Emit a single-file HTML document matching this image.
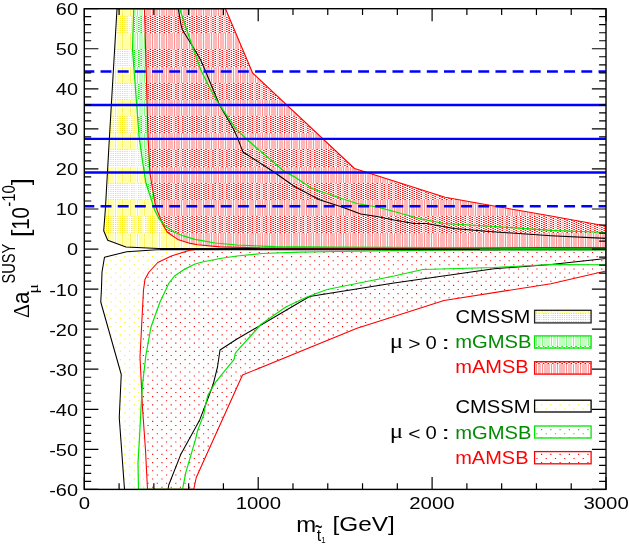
<!DOCTYPE html>
<html><head><meta charset="utf-8"><title>chart</title>
<style>html,body{margin:0;padding:0;background:#fff}svg{display:block}</style>
</head><body>
<svg width="629" height="545" viewBox="0 0 629 545">
<defs>
<clipPath id="cy"><polygon points="117.00,8.70 109.50,136.00 105.30,210.00 103.70,230.70 107.70,240.20 126.00,246.90 158.60,248.50 606.00,248.70 606.00,238.40 551.00,235.80 489.00,231.50 454.00,228.50 426.50,223.50 414.00,223.50 394.00,220.00 377.00,216.50 360.75,214.00 342.00,207.00 319.50,199.75 294.50,186.50 273.90,172.00 242.90,152.00 237.40,137.40 233.50,129.00 219.40,104.70 204.70,69.20 200.80,60.20 196.30,52.50 189.30,41.00 182.20,29.40 180.90,24.30 178.30,8.70"/></clipPath>
<clipPath id="cg"><polygon points="133.75,8.70 132.50,48.75 139.00,136.00 142.50,161.00 146.00,183.50 151.00,198.50 154.60,210.00 158.60,218.00 165.00,225.90 174.50,232.30 184.00,236.20 195.00,239.40 215.00,243.00 237.00,245.00 274.50,246.70 330.00,247.20 480.00,247.80 560.00,248.80 606.00,249.20 606.00,232.50 551.00,230.30 494.00,226.50 444.00,223.50 419.00,218.50 394.00,211.50 377.00,207.00 357.00,203.50 337.00,197.00 312.00,188.50 294.00,176.60 284.50,171.50 264.70,154.80 248.60,141.00 236.00,129.00 219.40,104.70 210.40,89.30 200.80,70.00 190.90,42.00 179.60,8.70"/></clipPath>
<clipPath id="cr"><polygon points="144.50,8.70 148.00,136.00 150.00,173.50 155.00,203.50 157.00,210.00 162.60,224.30 167.30,232.30 177.70,239.40 190.40,243.40 197.50,244.75 220.00,246.90 260.00,247.90 400.00,248.00 520.00,247.60 606.00,247.50 606.00,226.00 551.00,216.00 494.00,206.00 445.00,197.25 354.50,168.50 252.60,73.00 225.50,8.70"/></clipPath>
<clipPath id="cu"><polygon points="117.00,8.70 109.50,136.00 105.30,210.00 103.70,230.70 107.70,240.20 126.00,246.90 158.60,248.50 606.00,248.70 606.00,238.40 551.00,235.80 489.00,231.50 454.00,228.50 426.50,223.50 414.00,223.50 394.00,220.00 377.00,216.50 360.75,214.00 342.00,207.00 319.50,199.75 294.50,186.50 273.90,172.00 242.90,152.00 237.40,137.40 233.50,129.00 219.40,104.70 204.70,69.20 200.80,60.20 196.30,52.50 189.30,41.00 182.20,29.40 180.90,24.30 178.30,8.70"/><polygon points="133.75,8.70 132.50,48.75 139.00,136.00 142.50,161.00 146.00,183.50 151.00,198.50 154.60,210.00 158.60,218.00 165.00,225.90 174.50,232.30 184.00,236.20 195.00,239.40 215.00,243.00 237.00,245.00 274.50,246.70 330.00,247.20 480.00,247.80 560.00,248.80 606.00,249.20 606.00,232.50 551.00,230.30 494.00,226.50 444.00,223.50 419.00,218.50 394.00,211.50 377.00,207.00 357.00,203.50 337.00,197.00 312.00,188.50 294.00,176.60 284.50,171.50 264.70,154.80 248.60,141.00 236.00,129.00 219.40,104.70 210.40,89.30 200.80,70.00 190.90,42.00 179.60,8.70"/><polygon points="144.50,8.70 148.00,136.00 150.00,173.50 155.00,203.50 157.00,210.00 162.60,224.30 167.30,232.30 177.70,239.40 190.40,243.40 197.50,244.75 220.00,246.90 260.00,247.90 400.00,248.00 520.00,247.60 606.00,247.50 606.00,226.00 551.00,216.00 494.00,206.00 445.00,197.25 354.50,168.50 252.60,73.00 225.50,8.70"/></clipPath>
<clipPath id="cyn"><polygon points="606.00,249.70 157.00,249.80 126.80,251.70 104.50,257.20 102.00,272.00 101.40,290.00 100.75,302.00 121.25,374.50 119.25,417.50 124.50,489.40 168.00,489.40 168.75,485.00 181.00,453.90 199.70,419.90 206.60,402.00 213.20,384.30 217.50,367.00 220.00,350.00 237.00,339.00 309.50,296.50 394.00,283.10 494.00,268.75 551.00,264.50 606.00,258.50"/></clipPath>
<clipPath id="crn"><polygon points="606.00,249.30 195.00,249.50 188.80,250.50 171.30,256.10 157.80,262.50 149.00,272.00 145.00,279.20 143.50,290.00 140.00,357.00 142.50,408.00 145.50,450.00 147.50,489.40 193.75,489.40 196.25,477.50 242.50,375.00 357.00,328.25 394.00,316.40 444.00,300.50 551.00,283.75 606.00,271.00"/></clipPath>
<clipPath id="cfr"><rect x="84.30" y="8.70" width="521.70" height="480.70"/></clipPath>
</defs>
<rect width="629" height="545" fill="#fff"/>
<g clip-path="url(#cy)">
<rect x="98.0" y="8.7" width="508.0" height="241.3" fill="#ffffa8"/>
<path d="M100.5 8.7V250M108.5 8.7V250M115.5 8.7V250M122.5 8.7V250M130.5 8.7V250M137.5 8.7V250M144.5 8.7V250M152.5 8.7V250M159.5 8.7V250M166.5 8.7V250M174.5 8.7V250M181.5 8.7V250M189.5 8.7V250M196.5 8.7V250M203.5 8.7V250M211.5 8.7V250M218.5 8.7V250M225.5 8.7V250M233.5 8.7V250M240.5 8.7V250M247.5 8.7V250M255.5 8.7V250M262.5 8.7V250M269.5 8.7V250M277.5 8.7V250M284.5 8.7V250M291.5 8.7V250M299.5 8.7V250M306.5 8.7V250M313.5 8.7V250M321.5 8.7V250M328.5 8.7V250M336.5 8.7V250M343.5 8.7V250M350.5 8.7V250M358.5 8.7V250M365.5 8.7V250M372.5 8.7V250M380.5 8.7V250M387.5 8.7V250M394.5 8.7V250M402.5 8.7V250M409.5 8.7V250M416.5 8.7V250M424.5 8.7V250M431.5 8.7V250M438.5 8.7V250M446.5 8.7V250M453.5 8.7V250M460.5 8.7V250M468.5 8.7V250M475.5 8.7V250M483.5 8.7V250M490.5 8.7V250M497.5 8.7V250M505.5 8.7V250M512.5 8.7V250M519.5 8.7V250M527.5 8.7V250M534.5 8.7V250M541.5 8.7V250M549.5 8.7V250M556.5 8.7V250M563.5 8.7V250M571.5 8.7V250M578.5 8.7V250M585.5 8.7V250M593.5 8.7V250M600.5 8.7V250M607.5 8.7V250" stroke="#fff06a" stroke-width="1" fill="none"/>
<path d="M99.5 8.7V250M101.5 8.7V250M107.5 8.7V250M109.5 8.7V250M114.5 8.7V250M116.5 8.7V250M121.5 8.7V250M123.5 8.7V250M129.5 8.7V250M131.5 8.7V250M136.5 8.7V250M138.5 8.7V250M143.5 8.7V250M145.5 8.7V250M151.5 8.7V250M153.5 8.7V250M158.5 8.7V250M160.5 8.7V250M165.5 8.7V250M167.5 8.7V250M173.5 8.7V250M175.5 8.7V250M180.5 8.7V250M182.5 8.7V250M188.5 8.7V250M190.5 8.7V250M195.5 8.7V250M197.5 8.7V250M202.5 8.7V250M204.5 8.7V250M210.5 8.7V250M212.5 8.7V250M217.5 8.7V250M219.5 8.7V250M224.5 8.7V250M226.5 8.7V250M232.5 8.7V250M234.5 8.7V250M239.5 8.7V250M241.5 8.7V250M246.5 8.7V250M248.5 8.7V250M254.5 8.7V250M256.5 8.7V250M261.5 8.7V250M263.5 8.7V250M268.5 8.7V250M270.5 8.7V250M276.5 8.7V250M278.5 8.7V250M283.5 8.7V250M285.5 8.7V250M290.5 8.7V250M292.5 8.7V250M298.5 8.7V250M300.5 8.7V250M305.5 8.7V250M307.5 8.7V250M312.5 8.7V250M314.5 8.7V250M320.5 8.7V250M322.5 8.7V250M327.5 8.7V250M329.5 8.7V250M335.5 8.7V250M337.5 8.7V250M342.5 8.7V250M344.5 8.7V250M349.5 8.7V250M351.5 8.7V250M357.5 8.7V250M359.5 8.7V250M364.5 8.7V250M366.5 8.7V250M371.5 8.7V250M373.5 8.7V250M379.5 8.7V250M381.5 8.7V250M386.5 8.7V250M388.5 8.7V250M393.5 8.7V250M395.5 8.7V250M401.5 8.7V250M403.5 8.7V250M408.5 8.7V250M410.5 8.7V250M415.5 8.7V250M417.5 8.7V250M423.5 8.7V250M425.5 8.7V250M430.5 8.7V250M432.5 8.7V250M437.5 8.7V250M439.5 8.7V250M445.5 8.7V250M447.5 8.7V250M452.5 8.7V250M454.5 8.7V250M459.5 8.7V250M461.5 8.7V250M467.5 8.7V250M469.5 8.7V250M474.5 8.7V250M476.5 8.7V250M482.5 8.7V250M484.5 8.7V250M489.5 8.7V250M491.5 8.7V250M496.5 8.7V250M498.5 8.7V250M504.5 8.7V250M506.5 8.7V250M511.5 8.7V250M513.5 8.7V250M518.5 8.7V250M520.5 8.7V250M526.5 8.7V250M528.5 8.7V250M533.5 8.7V250M535.5 8.7V250M540.5 8.7V250M542.5 8.7V250M548.5 8.7V250M550.5 8.7V250M555.5 8.7V250M557.5 8.7V250M562.5 8.7V250M564.5 8.7V250M570.5 8.7V250M572.5 8.7V250M577.5 8.7V250M579.5 8.7V250M584.5 8.7V250M586.5 8.7V250M592.5 8.7V250M594.5 8.7V250M599.5 8.7V250M601.5 8.7V250M606.5 8.7V250M608.5 8.7V250" stroke="#fff" stroke-width="1" fill="none" opacity="0.85"/>
<rect x="98.0" y="16.00" width="508.0" height="17.00" fill="#fff"/>
<path d="M94.15 16.5H606.0M94.15 18.5H606.0M94.15 20.5H606.0M94.15 22.5H606.0M94.15 24.5H606.0M94.15 26.5H606.0M94.15 28.5H606.0M94.15 30.5H606.0M94.15 32.5H606.0" stroke="#ffe800" stroke-width="1" stroke-dasharray="1.2 1.115" fill="none"/>
<path d="M99.5 16.0V33.0M107.5 16.0V33.0M114.5 16.0V33.0M121.5 16.0V33.0M129.5 16.0V33.0M136.5 16.0V33.0M143.5 16.0V33.0M151.5 16.0V33.0M158.5 16.0V33.0M165.5 16.0V33.0M173.5 16.0V33.0M180.5 16.0V33.0M188.5 16.0V33.0M195.5 16.0V33.0M202.5 16.0V33.0M210.5 16.0V33.0M217.5 16.0V33.0M224.5 16.0V33.0M232.5 16.0V33.0M239.5 16.0V33.0M246.5 16.0V33.0M254.5 16.0V33.0M261.5 16.0V33.0M268.5 16.0V33.0M276.5 16.0V33.0M283.5 16.0V33.0M290.5 16.0V33.0M298.5 16.0V33.0M305.5 16.0V33.0M312.5 16.0V33.0M320.5 16.0V33.0M327.5 16.0V33.0M335.5 16.0V33.0M342.5 16.0V33.0M349.5 16.0V33.0M357.5 16.0V33.0M364.5 16.0V33.0M371.5 16.0V33.0M379.5 16.0V33.0M386.5 16.0V33.0M393.5 16.0V33.0M401.5 16.0V33.0M408.5 16.0V33.0M415.5 16.0V33.0M423.5 16.0V33.0M430.5 16.0V33.0M437.5 16.0V33.0M445.5 16.0V33.0M452.5 16.0V33.0M459.5 16.0V33.0M467.5 16.0V33.0M474.5 16.0V33.0M482.5 16.0V33.0M489.5 16.0V33.0M496.5 16.0V33.0M504.5 16.0V33.0M511.5 16.0V33.0M518.5 16.0V33.0M526.5 16.0V33.0M533.5 16.0V33.0M540.5 16.0V33.0M548.5 16.0V33.0M555.5 16.0V33.0M562.5 16.0V33.0M570.5 16.0V33.0M577.5 16.0V33.0M584.5 16.0V33.0M592.5 16.0V33.0M599.5 16.0V33.0M606.5 16.0V33.0" stroke="#fff" stroke-width="1" fill="none" opacity="0.6"/>
<rect x="98.0" y="49.00" width="508.0" height="18.00" fill="#fff"/>
<path d="M94.15 49.5H606.0M94.15 51.5H606.0M94.15 53.5H606.0M94.15 55.5H606.0M94.15 57.5H606.0M94.15 59.5H606.0M94.15 61.5H606.0M94.15 63.5H606.0M94.15 65.5H606.0" stroke="#ffe800" stroke-width="1" stroke-dasharray="1.2 1.115" fill="none"/>
<path d="M99.5 49.0V67.0M107.5 49.0V67.0M114.5 49.0V67.0M121.5 49.0V67.0M129.5 49.0V67.0M136.5 49.0V67.0M143.5 49.0V67.0M151.5 49.0V67.0M158.5 49.0V67.0M165.5 49.0V67.0M173.5 49.0V67.0M180.5 49.0V67.0M188.5 49.0V67.0M195.5 49.0V67.0M202.5 49.0V67.0M210.5 49.0V67.0M217.5 49.0V67.0M224.5 49.0V67.0M232.5 49.0V67.0M239.5 49.0V67.0M246.5 49.0V67.0M254.5 49.0V67.0M261.5 49.0V67.0M268.5 49.0V67.0M276.5 49.0V67.0M283.5 49.0V67.0M290.5 49.0V67.0M298.5 49.0V67.0M305.5 49.0V67.0M312.5 49.0V67.0M320.5 49.0V67.0M327.5 49.0V67.0M335.5 49.0V67.0M342.5 49.0V67.0M349.5 49.0V67.0M357.5 49.0V67.0M364.5 49.0V67.0M371.5 49.0V67.0M379.5 49.0V67.0M386.5 49.0V67.0M393.5 49.0V67.0M401.5 49.0V67.0M408.5 49.0V67.0M415.5 49.0V67.0M423.5 49.0V67.0M430.5 49.0V67.0M437.5 49.0V67.0M445.5 49.0V67.0M452.5 49.0V67.0M459.5 49.0V67.0M467.5 49.0V67.0M474.5 49.0V67.0M482.5 49.0V67.0M489.5 49.0V67.0M496.5 49.0V67.0M504.5 49.0V67.0M511.5 49.0V67.0M518.5 49.0V67.0M526.5 49.0V67.0M533.5 49.0V67.0M540.5 49.0V67.0M548.5 49.0V67.0M555.5 49.0V67.0M562.5 49.0V67.0M570.5 49.0V67.0M577.5 49.0V67.0M584.5 49.0V67.0M592.5 49.0V67.0M599.5 49.0V67.0M606.5 49.0V67.0" stroke="#fff" stroke-width="1" fill="none" opacity="0.6"/>
<rect x="98.0" y="83.00" width="508.0" height="17.00" fill="#fff"/>
<path d="M94.15 83.5H606.0M94.15 85.5H606.0M94.15 87.5H606.0M94.15 89.5H606.0M94.15 91.5H606.0M94.15 93.5H606.0M94.15 95.5H606.0M94.15 97.5H606.0M94.15 99.5H606.0" stroke="#ffe800" stroke-width="1" stroke-dasharray="1.2 1.115" fill="none"/>
<path d="M99.5 83.0V100.0M107.5 83.0V100.0M114.5 83.0V100.0M121.5 83.0V100.0M129.5 83.0V100.0M136.5 83.0V100.0M143.5 83.0V100.0M151.5 83.0V100.0M158.5 83.0V100.0M165.5 83.0V100.0M173.5 83.0V100.0M180.5 83.0V100.0M188.5 83.0V100.0M195.5 83.0V100.0M202.5 83.0V100.0M210.5 83.0V100.0M217.5 83.0V100.0M224.5 83.0V100.0M232.5 83.0V100.0M239.5 83.0V100.0M246.5 83.0V100.0M254.5 83.0V100.0M261.5 83.0V100.0M268.5 83.0V100.0M276.5 83.0V100.0M283.5 83.0V100.0M290.5 83.0V100.0M298.5 83.0V100.0M305.5 83.0V100.0M312.5 83.0V100.0M320.5 83.0V100.0M327.5 83.0V100.0M335.5 83.0V100.0M342.5 83.0V100.0M349.5 83.0V100.0M357.5 83.0V100.0M364.5 83.0V100.0M371.5 83.0V100.0M379.5 83.0V100.0M386.5 83.0V100.0M393.5 83.0V100.0M401.5 83.0V100.0M408.5 83.0V100.0M415.5 83.0V100.0M423.5 83.0V100.0M430.5 83.0V100.0M437.5 83.0V100.0M445.5 83.0V100.0M452.5 83.0V100.0M459.5 83.0V100.0M467.5 83.0V100.0M474.5 83.0V100.0M482.5 83.0V100.0M489.5 83.0V100.0M496.5 83.0V100.0M504.5 83.0V100.0M511.5 83.0V100.0M518.5 83.0V100.0M526.5 83.0V100.0M533.5 83.0V100.0M540.5 83.0V100.0M548.5 83.0V100.0M555.5 83.0V100.0M562.5 83.0V100.0M570.5 83.0V100.0M577.5 83.0V100.0M584.5 83.0V100.0M592.5 83.0V100.0M599.5 83.0V100.0M606.5 83.0V100.0" stroke="#fff" stroke-width="1" fill="none" opacity="0.6"/>
<rect x="98.0" y="116.00" width="508.0" height="17.00" fill="#fff"/>
<path d="M94.15 116.5H606.0M94.15 118.5H606.0M94.15 120.5H606.0M94.15 122.5H606.0M94.15 124.5H606.0M94.15 126.5H606.0M94.15 128.5H606.0M94.15 130.5H606.0M94.15 132.5H606.0" stroke="#ffe800" stroke-width="1" stroke-dasharray="1.2 1.115" fill="none"/>
<path d="M99.5 116.0V133.0M107.5 116.0V133.0M114.5 116.0V133.0M121.5 116.0V133.0M129.5 116.0V133.0M136.5 116.0V133.0M143.5 116.0V133.0M151.5 116.0V133.0M158.5 116.0V133.0M165.5 116.0V133.0M173.5 116.0V133.0M180.5 116.0V133.0M188.5 116.0V133.0M195.5 116.0V133.0M202.5 116.0V133.0M210.5 116.0V133.0M217.5 116.0V133.0M224.5 116.0V133.0M232.5 116.0V133.0M239.5 116.0V133.0M246.5 116.0V133.0M254.5 116.0V133.0M261.5 116.0V133.0M268.5 116.0V133.0M276.5 116.0V133.0M283.5 116.0V133.0M290.5 116.0V133.0M298.5 116.0V133.0M305.5 116.0V133.0M312.5 116.0V133.0M320.5 116.0V133.0M327.5 116.0V133.0M335.5 116.0V133.0M342.5 116.0V133.0M349.5 116.0V133.0M357.5 116.0V133.0M364.5 116.0V133.0M371.5 116.0V133.0M379.5 116.0V133.0M386.5 116.0V133.0M393.5 116.0V133.0M401.5 116.0V133.0M408.5 116.0V133.0M415.5 116.0V133.0M423.5 116.0V133.0M430.5 116.0V133.0M437.5 116.0V133.0M445.5 116.0V133.0M452.5 116.0V133.0M459.5 116.0V133.0M467.5 116.0V133.0M474.5 116.0V133.0M482.5 116.0V133.0M489.5 116.0V133.0M496.5 116.0V133.0M504.5 116.0V133.0M511.5 116.0V133.0M518.5 116.0V133.0M526.5 116.0V133.0M533.5 116.0V133.0M540.5 116.0V133.0M548.5 116.0V133.0M555.5 116.0V133.0M562.5 116.0V133.0M570.5 116.0V133.0M577.5 116.0V133.0M584.5 116.0V133.0M592.5 116.0V133.0M599.5 116.0V133.0M606.5 116.0V133.0" stroke="#fff" stroke-width="1" fill="none" opacity="0.6"/>
<rect x="98.0" y="149.00" width="508.0" height="18.00" fill="#fff"/>
<path d="M94.15 149.5H606.0M94.15 151.5H606.0M94.15 153.5H606.0M94.15 155.5H606.0M94.15 157.5H606.0M94.15 159.5H606.0M94.15 161.5H606.0M94.15 163.5H606.0M94.15 165.5H606.0" stroke="#ffe800" stroke-width="1" stroke-dasharray="1.2 1.115" fill="none"/>
<path d="M99.5 149.0V167.0M107.5 149.0V167.0M114.5 149.0V167.0M121.5 149.0V167.0M129.5 149.0V167.0M136.5 149.0V167.0M143.5 149.0V167.0M151.5 149.0V167.0M158.5 149.0V167.0M165.5 149.0V167.0M173.5 149.0V167.0M180.5 149.0V167.0M188.5 149.0V167.0M195.5 149.0V167.0M202.5 149.0V167.0M210.5 149.0V167.0M217.5 149.0V167.0M224.5 149.0V167.0M232.5 149.0V167.0M239.5 149.0V167.0M246.5 149.0V167.0M254.5 149.0V167.0M261.5 149.0V167.0M268.5 149.0V167.0M276.5 149.0V167.0M283.5 149.0V167.0M290.5 149.0V167.0M298.5 149.0V167.0M305.5 149.0V167.0M312.5 149.0V167.0M320.5 149.0V167.0M327.5 149.0V167.0M335.5 149.0V167.0M342.5 149.0V167.0M349.5 149.0V167.0M357.5 149.0V167.0M364.5 149.0V167.0M371.5 149.0V167.0M379.5 149.0V167.0M386.5 149.0V167.0M393.5 149.0V167.0M401.5 149.0V167.0M408.5 149.0V167.0M415.5 149.0V167.0M423.5 149.0V167.0M430.5 149.0V167.0M437.5 149.0V167.0M445.5 149.0V167.0M452.5 149.0V167.0M459.5 149.0V167.0M467.5 149.0V167.0M474.5 149.0V167.0M482.5 149.0V167.0M489.5 149.0V167.0M496.5 149.0V167.0M504.5 149.0V167.0M511.5 149.0V167.0M518.5 149.0V167.0M526.5 149.0V167.0M533.5 149.0V167.0M540.5 149.0V167.0M548.5 149.0V167.0M555.5 149.0V167.0M562.5 149.0V167.0M570.5 149.0V167.0M577.5 149.0V167.0M584.5 149.0V167.0M592.5 149.0V167.0M599.5 149.0V167.0M606.5 149.0V167.0" stroke="#fff" stroke-width="1" fill="none" opacity="0.6"/>
<rect x="98.0" y="183.00" width="508.0" height="17.00" fill="#fff"/>
<path d="M94.15 183.5H606.0M94.15 185.5H606.0M94.15 187.5H606.0M94.15 189.5H606.0M94.15 191.5H606.0M94.15 193.5H606.0M94.15 195.5H606.0M94.15 197.5H606.0M94.15 199.5H606.0" stroke="#ffe800" stroke-width="1" stroke-dasharray="1.2 1.115" fill="none"/>
<path d="M99.5 183.0V200.0M107.5 183.0V200.0M114.5 183.0V200.0M121.5 183.0V200.0M129.5 183.0V200.0M136.5 183.0V200.0M143.5 183.0V200.0M151.5 183.0V200.0M158.5 183.0V200.0M165.5 183.0V200.0M173.5 183.0V200.0M180.5 183.0V200.0M188.5 183.0V200.0M195.5 183.0V200.0M202.5 183.0V200.0M210.5 183.0V200.0M217.5 183.0V200.0M224.5 183.0V200.0M232.5 183.0V200.0M239.5 183.0V200.0M246.5 183.0V200.0M254.5 183.0V200.0M261.5 183.0V200.0M268.5 183.0V200.0M276.5 183.0V200.0M283.5 183.0V200.0M290.5 183.0V200.0M298.5 183.0V200.0M305.5 183.0V200.0M312.5 183.0V200.0M320.5 183.0V200.0M327.5 183.0V200.0M335.5 183.0V200.0M342.5 183.0V200.0M349.5 183.0V200.0M357.5 183.0V200.0M364.5 183.0V200.0M371.5 183.0V200.0M379.5 183.0V200.0M386.5 183.0V200.0M393.5 183.0V200.0M401.5 183.0V200.0M408.5 183.0V200.0M415.5 183.0V200.0M423.5 183.0V200.0M430.5 183.0V200.0M437.5 183.0V200.0M445.5 183.0V200.0M452.5 183.0V200.0M459.5 183.0V200.0M467.5 183.0V200.0M474.5 183.0V200.0M482.5 183.0V200.0M489.5 183.0V200.0M496.5 183.0V200.0M504.5 183.0V200.0M511.5 183.0V200.0M518.5 183.0V200.0M526.5 183.0V200.0M533.5 183.0V200.0M540.5 183.0V200.0M548.5 183.0V200.0M555.5 183.0V200.0M562.5 183.0V200.0M570.5 183.0V200.0M577.5 183.0V200.0M584.5 183.0V200.0M592.5 183.0V200.0M599.5 183.0V200.0M606.5 183.0V200.0" stroke="#fff" stroke-width="1" fill="none" opacity="0.6"/>
<rect x="98.0" y="216.00" width="508.0" height="17.00" fill="#fff"/>
<path d="M94.15 216.5H606.0M94.15 218.5H606.0M94.15 220.5H606.0M94.15 222.5H606.0M94.15 224.5H606.0M94.15 226.5H606.0M94.15 228.5H606.0M94.15 230.5H606.0M94.15 232.5H606.0" stroke="#ffe800" stroke-width="1" stroke-dasharray="1.2 1.115" fill="none"/>
<path d="M99.5 216.0V233.0M107.5 216.0V233.0M114.5 216.0V233.0M121.5 216.0V233.0M129.5 216.0V233.0M136.5 216.0V233.0M143.5 216.0V233.0M151.5 216.0V233.0M158.5 216.0V233.0M165.5 216.0V233.0M173.5 216.0V233.0M180.5 216.0V233.0M188.5 216.0V233.0M195.5 216.0V233.0M202.5 216.0V233.0M210.5 216.0V233.0M217.5 216.0V233.0M224.5 216.0V233.0M232.5 216.0V233.0M239.5 216.0V233.0M246.5 216.0V233.0M254.5 216.0V233.0M261.5 216.0V233.0M268.5 216.0V233.0M276.5 216.0V233.0M283.5 216.0V233.0M290.5 216.0V233.0M298.5 216.0V233.0M305.5 216.0V233.0M312.5 216.0V233.0M320.5 216.0V233.0M327.5 216.0V233.0M335.5 216.0V233.0M342.5 216.0V233.0M349.5 216.0V233.0M357.5 216.0V233.0M364.5 216.0V233.0M371.5 216.0V233.0M379.5 216.0V233.0M386.5 216.0V233.0M393.5 216.0V233.0M401.5 216.0V233.0M408.5 216.0V233.0M415.5 216.0V233.0M423.5 216.0V233.0M430.5 216.0V233.0M437.5 216.0V233.0M445.5 216.0V233.0M452.5 216.0V233.0M459.5 216.0V233.0M467.5 216.0V233.0M474.5 216.0V233.0M482.5 216.0V233.0M489.5 216.0V233.0M496.5 216.0V233.0M504.5 216.0V233.0M511.5 216.0V233.0M518.5 216.0V233.0M526.5 216.0V233.0M533.5 216.0V233.0M540.5 216.0V233.0M548.5 216.0V233.0M555.5 216.0V233.0M562.5 216.0V233.0M570.5 216.0V233.0M577.5 216.0V233.0M584.5 216.0V233.0M592.5 216.0V233.0M599.5 216.0V233.0M606.5 216.0V233.0" stroke="#fff" stroke-width="1" fill="none" opacity="0.6"/>
<rect x="98.0" y="249.00" width="508.0" height="1.00" fill="#fff"/>
<path d="M94.15 249.5H606.0" stroke="#ffe800" stroke-width="1" stroke-dasharray="1.2 1.115" fill="none"/>
<path d="M99.5 249.0V250.0M107.5 249.0V250.0M114.5 249.0V250.0M121.5 249.0V250.0M129.5 249.0V250.0M136.5 249.0V250.0M143.5 249.0V250.0M151.5 249.0V250.0M158.5 249.0V250.0M165.5 249.0V250.0M173.5 249.0V250.0M180.5 249.0V250.0M188.5 249.0V250.0M195.5 249.0V250.0M202.5 249.0V250.0M210.5 249.0V250.0M217.5 249.0V250.0M224.5 249.0V250.0M232.5 249.0V250.0M239.5 249.0V250.0M246.5 249.0V250.0M254.5 249.0V250.0M261.5 249.0V250.0M268.5 249.0V250.0M276.5 249.0V250.0M283.5 249.0V250.0M290.5 249.0V250.0M298.5 249.0V250.0M305.5 249.0V250.0M312.5 249.0V250.0M320.5 249.0V250.0M327.5 249.0V250.0M335.5 249.0V250.0M342.5 249.0V250.0M349.5 249.0V250.0M357.5 249.0V250.0M364.5 249.0V250.0M371.5 249.0V250.0M379.5 249.0V250.0M386.5 249.0V250.0M393.5 249.0V250.0M401.5 249.0V250.0M408.5 249.0V250.0M415.5 249.0V250.0M423.5 249.0V250.0M430.5 249.0V250.0M437.5 249.0V250.0M445.5 249.0V250.0M452.5 249.0V250.0M459.5 249.0V250.0M467.5 249.0V250.0M474.5 249.0V250.0M482.5 249.0V250.0M489.5 249.0V250.0M496.5 249.0V250.0M504.5 249.0V250.0M511.5 249.0V250.0M518.5 249.0V250.0M526.5 249.0V250.0M533.5 249.0V250.0M540.5 249.0V250.0M548.5 249.0V250.0M555.5 249.0V250.0M562.5 249.0V250.0M570.5 249.0V250.0M577.5 249.0V250.0M584.5 249.0V250.0M592.5 249.0V250.0M599.5 249.0V250.0M606.5 249.0V250.0" stroke="#fff" stroke-width="1" fill="none" opacity="0.6"/>
</g>
<g clip-path="url(#cg)">
<rect x="128.0" y="8.7" width="478.0" height="241.3" fill="#c0ffc0"/>
<path d="M122.5 8.7V250M130.5 8.7V250M137.5 8.7V250M144.5 8.7V250M152.5 8.7V250M159.5 8.7V250M166.5 8.7V250M174.5 8.7V250M181.5 8.7V250M189.5 8.7V250M196.5 8.7V250M203.5 8.7V250M211.5 8.7V250M218.5 8.7V250M225.5 8.7V250M233.5 8.7V250M240.5 8.7V250M247.5 8.7V250M255.5 8.7V250M262.5 8.7V250M269.5 8.7V250M277.5 8.7V250M284.5 8.7V250M291.5 8.7V250M299.5 8.7V250M306.5 8.7V250M313.5 8.7V250M321.5 8.7V250M328.5 8.7V250M336.5 8.7V250M343.5 8.7V250M350.5 8.7V250M358.5 8.7V250M365.5 8.7V250M372.5 8.7V250M380.5 8.7V250M387.5 8.7V250M394.5 8.7V250M402.5 8.7V250M409.5 8.7V250M416.5 8.7V250M424.5 8.7V250M431.5 8.7V250M438.5 8.7V250M446.5 8.7V250M453.5 8.7V250M460.5 8.7V250M468.5 8.7V250M475.5 8.7V250M483.5 8.7V250M490.5 8.7V250M497.5 8.7V250M505.5 8.7V250M512.5 8.7V250M519.5 8.7V250M527.5 8.7V250M534.5 8.7V250M541.5 8.7V250M549.5 8.7V250M556.5 8.7V250M563.5 8.7V250M571.5 8.7V250M578.5 8.7V250M585.5 8.7V250M593.5 8.7V250M600.5 8.7V250M607.5 8.7V250" stroke="#7dff7d" stroke-width="1" fill="none"/>
<path d="M121.5 8.7V250M123.5 8.7V250M129.5 8.7V250M131.5 8.7V250M136.5 8.7V250M138.5 8.7V250M143.5 8.7V250M145.5 8.7V250M151.5 8.7V250M153.5 8.7V250M158.5 8.7V250M160.5 8.7V250M165.5 8.7V250M167.5 8.7V250M173.5 8.7V250M175.5 8.7V250M180.5 8.7V250M182.5 8.7V250M188.5 8.7V250M190.5 8.7V250M195.5 8.7V250M197.5 8.7V250M202.5 8.7V250M204.5 8.7V250M210.5 8.7V250M212.5 8.7V250M217.5 8.7V250M219.5 8.7V250M224.5 8.7V250M226.5 8.7V250M232.5 8.7V250M234.5 8.7V250M239.5 8.7V250M241.5 8.7V250M246.5 8.7V250M248.5 8.7V250M254.5 8.7V250M256.5 8.7V250M261.5 8.7V250M263.5 8.7V250M268.5 8.7V250M270.5 8.7V250M276.5 8.7V250M278.5 8.7V250M283.5 8.7V250M285.5 8.7V250M290.5 8.7V250M292.5 8.7V250M298.5 8.7V250M300.5 8.7V250M305.5 8.7V250M307.5 8.7V250M312.5 8.7V250M314.5 8.7V250M320.5 8.7V250M322.5 8.7V250M327.5 8.7V250M329.5 8.7V250M335.5 8.7V250M337.5 8.7V250M342.5 8.7V250M344.5 8.7V250M349.5 8.7V250M351.5 8.7V250M357.5 8.7V250M359.5 8.7V250M364.5 8.7V250M366.5 8.7V250M371.5 8.7V250M373.5 8.7V250M379.5 8.7V250M381.5 8.7V250M386.5 8.7V250M388.5 8.7V250M393.5 8.7V250M395.5 8.7V250M401.5 8.7V250M403.5 8.7V250M408.5 8.7V250M410.5 8.7V250M415.5 8.7V250M417.5 8.7V250M423.5 8.7V250M425.5 8.7V250M430.5 8.7V250M432.5 8.7V250M437.5 8.7V250M439.5 8.7V250M445.5 8.7V250M447.5 8.7V250M452.5 8.7V250M454.5 8.7V250M459.5 8.7V250M461.5 8.7V250M467.5 8.7V250M469.5 8.7V250M474.5 8.7V250M476.5 8.7V250M482.5 8.7V250M484.5 8.7V250M489.5 8.7V250M491.5 8.7V250M496.5 8.7V250M498.5 8.7V250M504.5 8.7V250M506.5 8.7V250M511.5 8.7V250M513.5 8.7V250M518.5 8.7V250M520.5 8.7V250M526.5 8.7V250M528.5 8.7V250M533.5 8.7V250M535.5 8.7V250M540.5 8.7V250M542.5 8.7V250M548.5 8.7V250M550.5 8.7V250M555.5 8.7V250M557.5 8.7V250M562.5 8.7V250M564.5 8.7V250M570.5 8.7V250M572.5 8.7V250M577.5 8.7V250M579.5 8.7V250M584.5 8.7V250M586.5 8.7V250M592.5 8.7V250M594.5 8.7V250M599.5 8.7V250M601.5 8.7V250M606.5 8.7V250M608.5 8.7V250" stroke="#fff" stroke-width="1" fill="none" opacity="0.85"/>
<rect x="128.0" y="16.00" width="478.0" height="17.00" fill="#fff"/>
<path d="M94.15 16.5H606.0M94.15 18.5H606.0M94.15 20.5H606.0M94.15 22.5H606.0M94.15 24.5H606.0M94.15 26.5H606.0M94.15 28.5H606.0M94.15 30.5H606.0M94.15 32.5H606.0M96.47 17.5H606.0M96.47 19.5H606.0M96.47 21.5H606.0M96.47 23.5H606.0M96.47 25.5H606.0M96.47 27.5H606.0M96.47 29.5H606.0M96.47 31.5H606.0" stroke="#00e800" stroke-width="1" stroke-dasharray="1.5 3.130" fill="none"/>
<path d="M121.5 16.0V33.0M129.5 16.0V33.0M136.5 16.0V33.0M143.5 16.0V33.0M151.5 16.0V33.0M158.5 16.0V33.0M165.5 16.0V33.0M173.5 16.0V33.0M180.5 16.0V33.0M188.5 16.0V33.0M195.5 16.0V33.0M202.5 16.0V33.0M210.5 16.0V33.0M217.5 16.0V33.0M224.5 16.0V33.0M232.5 16.0V33.0M239.5 16.0V33.0M246.5 16.0V33.0M254.5 16.0V33.0M261.5 16.0V33.0M268.5 16.0V33.0M276.5 16.0V33.0M283.5 16.0V33.0M290.5 16.0V33.0M298.5 16.0V33.0M305.5 16.0V33.0M312.5 16.0V33.0M320.5 16.0V33.0M327.5 16.0V33.0M335.5 16.0V33.0M342.5 16.0V33.0M349.5 16.0V33.0M357.5 16.0V33.0M364.5 16.0V33.0M371.5 16.0V33.0M379.5 16.0V33.0M386.5 16.0V33.0M393.5 16.0V33.0M401.5 16.0V33.0M408.5 16.0V33.0M415.5 16.0V33.0M423.5 16.0V33.0M430.5 16.0V33.0M437.5 16.0V33.0M445.5 16.0V33.0M452.5 16.0V33.0M459.5 16.0V33.0M467.5 16.0V33.0M474.5 16.0V33.0M482.5 16.0V33.0M489.5 16.0V33.0M496.5 16.0V33.0M504.5 16.0V33.0M511.5 16.0V33.0M518.5 16.0V33.0M526.5 16.0V33.0M533.5 16.0V33.0M540.5 16.0V33.0M548.5 16.0V33.0M555.5 16.0V33.0M562.5 16.0V33.0M570.5 16.0V33.0M577.5 16.0V33.0M584.5 16.0V33.0M592.5 16.0V33.0M599.5 16.0V33.0M606.5 16.0V33.0" stroke="#fff" stroke-width="1" fill="none" opacity="0.6"/>
<rect x="128.0" y="49.00" width="478.0" height="18.00" fill="#fff"/>
<path d="M94.15 49.5H606.0M94.15 51.5H606.0M94.15 53.5H606.0M94.15 55.5H606.0M94.15 57.5H606.0M94.15 59.5H606.0M94.15 61.5H606.0M94.15 63.5H606.0M94.15 65.5H606.0M96.47 50.5H606.0M96.47 52.5H606.0M96.47 54.5H606.0M96.47 56.5H606.0M96.47 58.5H606.0M96.47 60.5H606.0M96.47 62.5H606.0M96.47 64.5H606.0M96.47 66.5H606.0" stroke="#00e800" stroke-width="1" stroke-dasharray="1.5 3.130" fill="none"/>
<path d="M121.5 49.0V67.0M129.5 49.0V67.0M136.5 49.0V67.0M143.5 49.0V67.0M151.5 49.0V67.0M158.5 49.0V67.0M165.5 49.0V67.0M173.5 49.0V67.0M180.5 49.0V67.0M188.5 49.0V67.0M195.5 49.0V67.0M202.5 49.0V67.0M210.5 49.0V67.0M217.5 49.0V67.0M224.5 49.0V67.0M232.5 49.0V67.0M239.5 49.0V67.0M246.5 49.0V67.0M254.5 49.0V67.0M261.5 49.0V67.0M268.5 49.0V67.0M276.5 49.0V67.0M283.5 49.0V67.0M290.5 49.0V67.0M298.5 49.0V67.0M305.5 49.0V67.0M312.5 49.0V67.0M320.5 49.0V67.0M327.5 49.0V67.0M335.5 49.0V67.0M342.5 49.0V67.0M349.5 49.0V67.0M357.5 49.0V67.0M364.5 49.0V67.0M371.5 49.0V67.0M379.5 49.0V67.0M386.5 49.0V67.0M393.5 49.0V67.0M401.5 49.0V67.0M408.5 49.0V67.0M415.5 49.0V67.0M423.5 49.0V67.0M430.5 49.0V67.0M437.5 49.0V67.0M445.5 49.0V67.0M452.5 49.0V67.0M459.5 49.0V67.0M467.5 49.0V67.0M474.5 49.0V67.0M482.5 49.0V67.0M489.5 49.0V67.0M496.5 49.0V67.0M504.5 49.0V67.0M511.5 49.0V67.0M518.5 49.0V67.0M526.5 49.0V67.0M533.5 49.0V67.0M540.5 49.0V67.0M548.5 49.0V67.0M555.5 49.0V67.0M562.5 49.0V67.0M570.5 49.0V67.0M577.5 49.0V67.0M584.5 49.0V67.0M592.5 49.0V67.0M599.5 49.0V67.0M606.5 49.0V67.0" stroke="#fff" stroke-width="1" fill="none" opacity="0.6"/>
<rect x="128.0" y="83.00" width="478.0" height="17.00" fill="#fff"/>
<path d="M94.15 83.5H606.0M94.15 85.5H606.0M94.15 87.5H606.0M94.15 89.5H606.0M94.15 91.5H606.0M94.15 93.5H606.0M94.15 95.5H606.0M94.15 97.5H606.0M94.15 99.5H606.0M96.47 84.5H606.0M96.47 86.5H606.0M96.47 88.5H606.0M96.47 90.5H606.0M96.47 92.5H606.0M96.47 94.5H606.0M96.47 96.5H606.0M96.47 98.5H606.0" stroke="#00e800" stroke-width="1" stroke-dasharray="1.5 3.130" fill="none"/>
<path d="M121.5 83.0V100.0M129.5 83.0V100.0M136.5 83.0V100.0M143.5 83.0V100.0M151.5 83.0V100.0M158.5 83.0V100.0M165.5 83.0V100.0M173.5 83.0V100.0M180.5 83.0V100.0M188.5 83.0V100.0M195.5 83.0V100.0M202.5 83.0V100.0M210.5 83.0V100.0M217.5 83.0V100.0M224.5 83.0V100.0M232.5 83.0V100.0M239.5 83.0V100.0M246.5 83.0V100.0M254.5 83.0V100.0M261.5 83.0V100.0M268.5 83.0V100.0M276.5 83.0V100.0M283.5 83.0V100.0M290.5 83.0V100.0M298.5 83.0V100.0M305.5 83.0V100.0M312.5 83.0V100.0M320.5 83.0V100.0M327.5 83.0V100.0M335.5 83.0V100.0M342.5 83.0V100.0M349.5 83.0V100.0M357.5 83.0V100.0M364.5 83.0V100.0M371.5 83.0V100.0M379.5 83.0V100.0M386.5 83.0V100.0M393.5 83.0V100.0M401.5 83.0V100.0M408.5 83.0V100.0M415.5 83.0V100.0M423.5 83.0V100.0M430.5 83.0V100.0M437.5 83.0V100.0M445.5 83.0V100.0M452.5 83.0V100.0M459.5 83.0V100.0M467.5 83.0V100.0M474.5 83.0V100.0M482.5 83.0V100.0M489.5 83.0V100.0M496.5 83.0V100.0M504.5 83.0V100.0M511.5 83.0V100.0M518.5 83.0V100.0M526.5 83.0V100.0M533.5 83.0V100.0M540.5 83.0V100.0M548.5 83.0V100.0M555.5 83.0V100.0M562.5 83.0V100.0M570.5 83.0V100.0M577.5 83.0V100.0M584.5 83.0V100.0M592.5 83.0V100.0M599.5 83.0V100.0M606.5 83.0V100.0" stroke="#fff" stroke-width="1" fill="none" opacity="0.6"/>
<rect x="128.0" y="116.00" width="478.0" height="17.00" fill="#fff"/>
<path d="M94.15 116.5H606.0M94.15 118.5H606.0M94.15 120.5H606.0M94.15 122.5H606.0M94.15 124.5H606.0M94.15 126.5H606.0M94.15 128.5H606.0M94.15 130.5H606.0M94.15 132.5H606.0M96.47 117.5H606.0M96.47 119.5H606.0M96.47 121.5H606.0M96.47 123.5H606.0M96.47 125.5H606.0M96.47 127.5H606.0M96.47 129.5H606.0M96.47 131.5H606.0" stroke="#00e800" stroke-width="1" stroke-dasharray="1.5 3.130" fill="none"/>
<path d="M121.5 116.0V133.0M129.5 116.0V133.0M136.5 116.0V133.0M143.5 116.0V133.0M151.5 116.0V133.0M158.5 116.0V133.0M165.5 116.0V133.0M173.5 116.0V133.0M180.5 116.0V133.0M188.5 116.0V133.0M195.5 116.0V133.0M202.5 116.0V133.0M210.5 116.0V133.0M217.5 116.0V133.0M224.5 116.0V133.0M232.5 116.0V133.0M239.5 116.0V133.0M246.5 116.0V133.0M254.5 116.0V133.0M261.5 116.0V133.0M268.5 116.0V133.0M276.5 116.0V133.0M283.5 116.0V133.0M290.5 116.0V133.0M298.5 116.0V133.0M305.5 116.0V133.0M312.5 116.0V133.0M320.5 116.0V133.0M327.5 116.0V133.0M335.5 116.0V133.0M342.5 116.0V133.0M349.5 116.0V133.0M357.5 116.0V133.0M364.5 116.0V133.0M371.5 116.0V133.0M379.5 116.0V133.0M386.5 116.0V133.0M393.5 116.0V133.0M401.5 116.0V133.0M408.5 116.0V133.0M415.5 116.0V133.0M423.5 116.0V133.0M430.5 116.0V133.0M437.5 116.0V133.0M445.5 116.0V133.0M452.5 116.0V133.0M459.5 116.0V133.0M467.5 116.0V133.0M474.5 116.0V133.0M482.5 116.0V133.0M489.5 116.0V133.0M496.5 116.0V133.0M504.5 116.0V133.0M511.5 116.0V133.0M518.5 116.0V133.0M526.5 116.0V133.0M533.5 116.0V133.0M540.5 116.0V133.0M548.5 116.0V133.0M555.5 116.0V133.0M562.5 116.0V133.0M570.5 116.0V133.0M577.5 116.0V133.0M584.5 116.0V133.0M592.5 116.0V133.0M599.5 116.0V133.0M606.5 116.0V133.0" stroke="#fff" stroke-width="1" fill="none" opacity="0.6"/>
<rect x="128.0" y="149.00" width="478.0" height="18.00" fill="#fff"/>
<path d="M94.15 149.5H606.0M94.15 151.5H606.0M94.15 153.5H606.0M94.15 155.5H606.0M94.15 157.5H606.0M94.15 159.5H606.0M94.15 161.5H606.0M94.15 163.5H606.0M94.15 165.5H606.0M96.47 150.5H606.0M96.47 152.5H606.0M96.47 154.5H606.0M96.47 156.5H606.0M96.47 158.5H606.0M96.47 160.5H606.0M96.47 162.5H606.0M96.47 164.5H606.0M96.47 166.5H606.0" stroke="#00e800" stroke-width="1" stroke-dasharray="1.5 3.130" fill="none"/>
<path d="M121.5 149.0V167.0M129.5 149.0V167.0M136.5 149.0V167.0M143.5 149.0V167.0M151.5 149.0V167.0M158.5 149.0V167.0M165.5 149.0V167.0M173.5 149.0V167.0M180.5 149.0V167.0M188.5 149.0V167.0M195.5 149.0V167.0M202.5 149.0V167.0M210.5 149.0V167.0M217.5 149.0V167.0M224.5 149.0V167.0M232.5 149.0V167.0M239.5 149.0V167.0M246.5 149.0V167.0M254.5 149.0V167.0M261.5 149.0V167.0M268.5 149.0V167.0M276.5 149.0V167.0M283.5 149.0V167.0M290.5 149.0V167.0M298.5 149.0V167.0M305.5 149.0V167.0M312.5 149.0V167.0M320.5 149.0V167.0M327.5 149.0V167.0M335.5 149.0V167.0M342.5 149.0V167.0M349.5 149.0V167.0M357.5 149.0V167.0M364.5 149.0V167.0M371.5 149.0V167.0M379.5 149.0V167.0M386.5 149.0V167.0M393.5 149.0V167.0M401.5 149.0V167.0M408.5 149.0V167.0M415.5 149.0V167.0M423.5 149.0V167.0M430.5 149.0V167.0M437.5 149.0V167.0M445.5 149.0V167.0M452.5 149.0V167.0M459.5 149.0V167.0M467.5 149.0V167.0M474.5 149.0V167.0M482.5 149.0V167.0M489.5 149.0V167.0M496.5 149.0V167.0M504.5 149.0V167.0M511.5 149.0V167.0M518.5 149.0V167.0M526.5 149.0V167.0M533.5 149.0V167.0M540.5 149.0V167.0M548.5 149.0V167.0M555.5 149.0V167.0M562.5 149.0V167.0M570.5 149.0V167.0M577.5 149.0V167.0M584.5 149.0V167.0M592.5 149.0V167.0M599.5 149.0V167.0M606.5 149.0V167.0" stroke="#fff" stroke-width="1" fill="none" opacity="0.6"/>
<rect x="128.0" y="183.00" width="478.0" height="17.00" fill="#fff"/>
<path d="M94.15 183.5H606.0M94.15 185.5H606.0M94.15 187.5H606.0M94.15 189.5H606.0M94.15 191.5H606.0M94.15 193.5H606.0M94.15 195.5H606.0M94.15 197.5H606.0M94.15 199.5H606.0M96.47 184.5H606.0M96.47 186.5H606.0M96.47 188.5H606.0M96.47 190.5H606.0M96.47 192.5H606.0M96.47 194.5H606.0M96.47 196.5H606.0M96.47 198.5H606.0" stroke="#00e800" stroke-width="1" stroke-dasharray="1.5 3.130" fill="none"/>
<path d="M121.5 183.0V200.0M129.5 183.0V200.0M136.5 183.0V200.0M143.5 183.0V200.0M151.5 183.0V200.0M158.5 183.0V200.0M165.5 183.0V200.0M173.5 183.0V200.0M180.5 183.0V200.0M188.5 183.0V200.0M195.5 183.0V200.0M202.5 183.0V200.0M210.5 183.0V200.0M217.5 183.0V200.0M224.5 183.0V200.0M232.5 183.0V200.0M239.5 183.0V200.0M246.5 183.0V200.0M254.5 183.0V200.0M261.5 183.0V200.0M268.5 183.0V200.0M276.5 183.0V200.0M283.5 183.0V200.0M290.5 183.0V200.0M298.5 183.0V200.0M305.5 183.0V200.0M312.5 183.0V200.0M320.5 183.0V200.0M327.5 183.0V200.0M335.5 183.0V200.0M342.5 183.0V200.0M349.5 183.0V200.0M357.5 183.0V200.0M364.5 183.0V200.0M371.5 183.0V200.0M379.5 183.0V200.0M386.5 183.0V200.0M393.5 183.0V200.0M401.5 183.0V200.0M408.5 183.0V200.0M415.5 183.0V200.0M423.5 183.0V200.0M430.5 183.0V200.0M437.5 183.0V200.0M445.5 183.0V200.0M452.5 183.0V200.0M459.5 183.0V200.0M467.5 183.0V200.0M474.5 183.0V200.0M482.5 183.0V200.0M489.5 183.0V200.0M496.5 183.0V200.0M504.5 183.0V200.0M511.5 183.0V200.0M518.5 183.0V200.0M526.5 183.0V200.0M533.5 183.0V200.0M540.5 183.0V200.0M548.5 183.0V200.0M555.5 183.0V200.0M562.5 183.0V200.0M570.5 183.0V200.0M577.5 183.0V200.0M584.5 183.0V200.0M592.5 183.0V200.0M599.5 183.0V200.0M606.5 183.0V200.0" stroke="#fff" stroke-width="1" fill="none" opacity="0.6"/>
<rect x="128.0" y="216.00" width="478.0" height="17.00" fill="#fff"/>
<path d="M94.15 216.5H606.0M94.15 218.5H606.0M94.15 220.5H606.0M94.15 222.5H606.0M94.15 224.5H606.0M94.15 226.5H606.0M94.15 228.5H606.0M94.15 230.5H606.0M94.15 232.5H606.0M96.47 217.5H606.0M96.47 219.5H606.0M96.47 221.5H606.0M96.47 223.5H606.0M96.47 225.5H606.0M96.47 227.5H606.0M96.47 229.5H606.0M96.47 231.5H606.0" stroke="#00e800" stroke-width="1" stroke-dasharray="1.5 3.130" fill="none"/>
<path d="M121.5 216.0V233.0M129.5 216.0V233.0M136.5 216.0V233.0M143.5 216.0V233.0M151.5 216.0V233.0M158.5 216.0V233.0M165.5 216.0V233.0M173.5 216.0V233.0M180.5 216.0V233.0M188.5 216.0V233.0M195.5 216.0V233.0M202.5 216.0V233.0M210.5 216.0V233.0M217.5 216.0V233.0M224.5 216.0V233.0M232.5 216.0V233.0M239.5 216.0V233.0M246.5 216.0V233.0M254.5 216.0V233.0M261.5 216.0V233.0M268.5 216.0V233.0M276.5 216.0V233.0M283.5 216.0V233.0M290.5 216.0V233.0M298.5 216.0V233.0M305.5 216.0V233.0M312.5 216.0V233.0M320.5 216.0V233.0M327.5 216.0V233.0M335.5 216.0V233.0M342.5 216.0V233.0M349.5 216.0V233.0M357.5 216.0V233.0M364.5 216.0V233.0M371.5 216.0V233.0M379.5 216.0V233.0M386.5 216.0V233.0M393.5 216.0V233.0M401.5 216.0V233.0M408.5 216.0V233.0M415.5 216.0V233.0M423.5 216.0V233.0M430.5 216.0V233.0M437.5 216.0V233.0M445.5 216.0V233.0M452.5 216.0V233.0M459.5 216.0V233.0M467.5 216.0V233.0M474.5 216.0V233.0M482.5 216.0V233.0M489.5 216.0V233.0M496.5 216.0V233.0M504.5 216.0V233.0M511.5 216.0V233.0M518.5 216.0V233.0M526.5 216.0V233.0M533.5 216.0V233.0M540.5 216.0V233.0M548.5 216.0V233.0M555.5 216.0V233.0M562.5 216.0V233.0M570.5 216.0V233.0M577.5 216.0V233.0M584.5 216.0V233.0M592.5 216.0V233.0M599.5 216.0V233.0M606.5 216.0V233.0" stroke="#fff" stroke-width="1" fill="none" opacity="0.6"/>
<rect x="128.0" y="249.00" width="478.0" height="1.00" fill="#fff"/>
<path d="M94.15 249.5H606.0" stroke="#00e800" stroke-width="1" stroke-dasharray="1.5 3.130" fill="none"/>
<path d="M121.5 249.0V250.0M129.5 249.0V250.0M136.5 249.0V250.0M143.5 249.0V250.0M151.5 249.0V250.0M158.5 249.0V250.0M165.5 249.0V250.0M173.5 249.0V250.0M180.5 249.0V250.0M188.5 249.0V250.0M195.5 249.0V250.0M202.5 249.0V250.0M210.5 249.0V250.0M217.5 249.0V250.0M224.5 249.0V250.0M232.5 249.0V250.0M239.5 249.0V250.0M246.5 249.0V250.0M254.5 249.0V250.0M261.5 249.0V250.0M268.5 249.0V250.0M276.5 249.0V250.0M283.5 249.0V250.0M290.5 249.0V250.0M298.5 249.0V250.0M305.5 249.0V250.0M312.5 249.0V250.0M320.5 249.0V250.0M327.5 249.0V250.0M335.5 249.0V250.0M342.5 249.0V250.0M349.5 249.0V250.0M357.5 249.0V250.0M364.5 249.0V250.0M371.5 249.0V250.0M379.5 249.0V250.0M386.5 249.0V250.0M393.5 249.0V250.0M401.5 249.0V250.0M408.5 249.0V250.0M415.5 249.0V250.0M423.5 249.0V250.0M430.5 249.0V250.0M437.5 249.0V250.0M445.5 249.0V250.0M452.5 249.0V250.0M459.5 249.0V250.0M467.5 249.0V250.0M474.5 249.0V250.0M482.5 249.0V250.0M489.5 249.0V250.0M496.5 249.0V250.0M504.5 249.0V250.0M511.5 249.0V250.0M518.5 249.0V250.0M526.5 249.0V250.0M533.5 249.0V250.0M540.5 249.0V250.0M548.5 249.0V250.0M555.5 249.0V250.0M562.5 249.0V250.0M570.5 249.0V250.0M577.5 249.0V250.0M584.5 249.0V250.0M592.5 249.0V250.0M599.5 249.0V250.0M606.5 249.0V250.0" stroke="#fff" stroke-width="1" fill="none" opacity="0.6"/>
</g>
<g clip-path="url(#cr)">
<rect x="140.0" y="8.7" width="466.0" height="241.3" fill="#ffb8b8"/>
<path d="M137.5 8.7V250M144.5 8.7V250M152.5 8.7V250M159.5 8.7V250M166.5 8.7V250M174.5 8.7V250M181.5 8.7V250M189.5 8.7V250M196.5 8.7V250M203.5 8.7V250M211.5 8.7V250M218.5 8.7V250M225.5 8.7V250M233.5 8.7V250M240.5 8.7V250M247.5 8.7V250M255.5 8.7V250M262.5 8.7V250M269.5 8.7V250M277.5 8.7V250M284.5 8.7V250M291.5 8.7V250M299.5 8.7V250M306.5 8.7V250M313.5 8.7V250M321.5 8.7V250M328.5 8.7V250M336.5 8.7V250M343.5 8.7V250M350.5 8.7V250M358.5 8.7V250M365.5 8.7V250M372.5 8.7V250M380.5 8.7V250M387.5 8.7V250M394.5 8.7V250M402.5 8.7V250M409.5 8.7V250M416.5 8.7V250M424.5 8.7V250M431.5 8.7V250M438.5 8.7V250M446.5 8.7V250M453.5 8.7V250M460.5 8.7V250M468.5 8.7V250M475.5 8.7V250M483.5 8.7V250M490.5 8.7V250M497.5 8.7V250M505.5 8.7V250M512.5 8.7V250M519.5 8.7V250M527.5 8.7V250M534.5 8.7V250M541.5 8.7V250M549.5 8.7V250M556.5 8.7V250M563.5 8.7V250M571.5 8.7V250M578.5 8.7V250M585.5 8.7V250M593.5 8.7V250M600.5 8.7V250M607.5 8.7V250" stroke="#ff8f8f" stroke-width="1" fill="none"/>
<path d="M136.5 8.7V250M138.5 8.7V250M143.5 8.7V250M145.5 8.7V250M151.5 8.7V250M153.5 8.7V250M158.5 8.7V250M160.5 8.7V250M165.5 8.7V250M167.5 8.7V250M173.5 8.7V250M175.5 8.7V250M180.5 8.7V250M182.5 8.7V250M188.5 8.7V250M190.5 8.7V250M195.5 8.7V250M197.5 8.7V250M202.5 8.7V250M204.5 8.7V250M210.5 8.7V250M212.5 8.7V250M217.5 8.7V250M219.5 8.7V250M224.5 8.7V250M226.5 8.7V250M232.5 8.7V250M234.5 8.7V250M239.5 8.7V250M241.5 8.7V250M246.5 8.7V250M248.5 8.7V250M254.5 8.7V250M256.5 8.7V250M261.5 8.7V250M263.5 8.7V250M268.5 8.7V250M270.5 8.7V250M276.5 8.7V250M278.5 8.7V250M283.5 8.7V250M285.5 8.7V250M290.5 8.7V250M292.5 8.7V250M298.5 8.7V250M300.5 8.7V250M305.5 8.7V250M307.5 8.7V250M312.5 8.7V250M314.5 8.7V250M320.5 8.7V250M322.5 8.7V250M327.5 8.7V250M329.5 8.7V250M335.5 8.7V250M337.5 8.7V250M342.5 8.7V250M344.5 8.7V250M349.5 8.7V250M351.5 8.7V250M357.5 8.7V250M359.5 8.7V250M364.5 8.7V250M366.5 8.7V250M371.5 8.7V250M373.5 8.7V250M379.5 8.7V250M381.5 8.7V250M386.5 8.7V250M388.5 8.7V250M393.5 8.7V250M395.5 8.7V250M401.5 8.7V250M403.5 8.7V250M408.5 8.7V250M410.5 8.7V250M415.5 8.7V250M417.5 8.7V250M423.5 8.7V250M425.5 8.7V250M430.5 8.7V250M432.5 8.7V250M437.5 8.7V250M439.5 8.7V250M445.5 8.7V250M447.5 8.7V250M452.5 8.7V250M454.5 8.7V250M459.5 8.7V250M461.5 8.7V250M467.5 8.7V250M469.5 8.7V250M474.5 8.7V250M476.5 8.7V250M482.5 8.7V250M484.5 8.7V250M489.5 8.7V250M491.5 8.7V250M496.5 8.7V250M498.5 8.7V250M504.5 8.7V250M506.5 8.7V250M511.5 8.7V250M513.5 8.7V250M518.5 8.7V250M520.5 8.7V250M526.5 8.7V250M528.5 8.7V250M533.5 8.7V250M535.5 8.7V250M540.5 8.7V250M542.5 8.7V250M548.5 8.7V250M550.5 8.7V250M555.5 8.7V250M557.5 8.7V250M562.5 8.7V250M564.5 8.7V250M570.5 8.7V250M572.5 8.7V250M577.5 8.7V250M579.5 8.7V250M584.5 8.7V250M586.5 8.7V250M592.5 8.7V250M594.5 8.7V250M599.5 8.7V250M601.5 8.7V250M606.5 8.7V250M608.5 8.7V250" stroke="#fff" stroke-width="1" fill="none" opacity="0.85"/>
<rect x="140.0" y="16.00" width="466.0" height="17.00" fill="#fff"/>
<path d="M94.15 16.5H606.0M94.15 18.5H606.0M94.15 20.5H606.0M94.15 22.5H606.0M94.15 24.5H606.0M94.15 26.5H606.0M94.15 28.5H606.0M94.15 30.5H606.0M94.15 32.5H606.0M96.47 17.5H606.0M96.47 19.5H606.0M96.47 21.5H606.0M96.47 23.5H606.0M96.47 25.5H606.0M96.47 27.5H606.0M96.47 29.5H606.0M96.47 31.5H606.0" stroke="#ff0000" stroke-width="1" stroke-dasharray="1.5 3.130" fill="none"/>
<path d="M136.5 16.0V33.0M143.5 16.0V33.0M151.5 16.0V33.0M158.5 16.0V33.0M165.5 16.0V33.0M173.5 16.0V33.0M180.5 16.0V33.0M188.5 16.0V33.0M195.5 16.0V33.0M202.5 16.0V33.0M210.5 16.0V33.0M217.5 16.0V33.0M224.5 16.0V33.0M232.5 16.0V33.0M239.5 16.0V33.0M246.5 16.0V33.0M254.5 16.0V33.0M261.5 16.0V33.0M268.5 16.0V33.0M276.5 16.0V33.0M283.5 16.0V33.0M290.5 16.0V33.0M298.5 16.0V33.0M305.5 16.0V33.0M312.5 16.0V33.0M320.5 16.0V33.0M327.5 16.0V33.0M335.5 16.0V33.0M342.5 16.0V33.0M349.5 16.0V33.0M357.5 16.0V33.0M364.5 16.0V33.0M371.5 16.0V33.0M379.5 16.0V33.0M386.5 16.0V33.0M393.5 16.0V33.0M401.5 16.0V33.0M408.5 16.0V33.0M415.5 16.0V33.0M423.5 16.0V33.0M430.5 16.0V33.0M437.5 16.0V33.0M445.5 16.0V33.0M452.5 16.0V33.0M459.5 16.0V33.0M467.5 16.0V33.0M474.5 16.0V33.0M482.5 16.0V33.0M489.5 16.0V33.0M496.5 16.0V33.0M504.5 16.0V33.0M511.5 16.0V33.0M518.5 16.0V33.0M526.5 16.0V33.0M533.5 16.0V33.0M540.5 16.0V33.0M548.5 16.0V33.0M555.5 16.0V33.0M562.5 16.0V33.0M570.5 16.0V33.0M577.5 16.0V33.0M584.5 16.0V33.0M592.5 16.0V33.0M599.5 16.0V33.0M606.5 16.0V33.0" stroke="#fff" stroke-width="1" fill="none" opacity="0.6"/>
<rect x="140.0" y="49.00" width="466.0" height="18.00" fill="#fff"/>
<path d="M94.15 49.5H606.0M94.15 51.5H606.0M94.15 53.5H606.0M94.15 55.5H606.0M94.15 57.5H606.0M94.15 59.5H606.0M94.15 61.5H606.0M94.15 63.5H606.0M94.15 65.5H606.0M96.47 50.5H606.0M96.47 52.5H606.0M96.47 54.5H606.0M96.47 56.5H606.0M96.47 58.5H606.0M96.47 60.5H606.0M96.47 62.5H606.0M96.47 64.5H606.0M96.47 66.5H606.0" stroke="#ff0000" stroke-width="1" stroke-dasharray="1.5 3.130" fill="none"/>
<path d="M136.5 49.0V67.0M143.5 49.0V67.0M151.5 49.0V67.0M158.5 49.0V67.0M165.5 49.0V67.0M173.5 49.0V67.0M180.5 49.0V67.0M188.5 49.0V67.0M195.5 49.0V67.0M202.5 49.0V67.0M210.5 49.0V67.0M217.5 49.0V67.0M224.5 49.0V67.0M232.5 49.0V67.0M239.5 49.0V67.0M246.5 49.0V67.0M254.5 49.0V67.0M261.5 49.0V67.0M268.5 49.0V67.0M276.5 49.0V67.0M283.5 49.0V67.0M290.5 49.0V67.0M298.5 49.0V67.0M305.5 49.0V67.0M312.5 49.0V67.0M320.5 49.0V67.0M327.5 49.0V67.0M335.5 49.0V67.0M342.5 49.0V67.0M349.5 49.0V67.0M357.5 49.0V67.0M364.5 49.0V67.0M371.5 49.0V67.0M379.5 49.0V67.0M386.5 49.0V67.0M393.5 49.0V67.0M401.5 49.0V67.0M408.5 49.0V67.0M415.5 49.0V67.0M423.5 49.0V67.0M430.5 49.0V67.0M437.5 49.0V67.0M445.5 49.0V67.0M452.5 49.0V67.0M459.5 49.0V67.0M467.5 49.0V67.0M474.5 49.0V67.0M482.5 49.0V67.0M489.5 49.0V67.0M496.5 49.0V67.0M504.5 49.0V67.0M511.5 49.0V67.0M518.5 49.0V67.0M526.5 49.0V67.0M533.5 49.0V67.0M540.5 49.0V67.0M548.5 49.0V67.0M555.5 49.0V67.0M562.5 49.0V67.0M570.5 49.0V67.0M577.5 49.0V67.0M584.5 49.0V67.0M592.5 49.0V67.0M599.5 49.0V67.0M606.5 49.0V67.0" stroke="#fff" stroke-width="1" fill="none" opacity="0.6"/>
<rect x="140.0" y="83.00" width="466.0" height="17.00" fill="#fff"/>
<path d="M94.15 83.5H606.0M94.15 85.5H606.0M94.15 87.5H606.0M94.15 89.5H606.0M94.15 91.5H606.0M94.15 93.5H606.0M94.15 95.5H606.0M94.15 97.5H606.0M94.15 99.5H606.0M96.47 84.5H606.0M96.47 86.5H606.0M96.47 88.5H606.0M96.47 90.5H606.0M96.47 92.5H606.0M96.47 94.5H606.0M96.47 96.5H606.0M96.47 98.5H606.0" stroke="#ff0000" stroke-width="1" stroke-dasharray="1.5 3.130" fill="none"/>
<path d="M136.5 83.0V100.0M143.5 83.0V100.0M151.5 83.0V100.0M158.5 83.0V100.0M165.5 83.0V100.0M173.5 83.0V100.0M180.5 83.0V100.0M188.5 83.0V100.0M195.5 83.0V100.0M202.5 83.0V100.0M210.5 83.0V100.0M217.5 83.0V100.0M224.5 83.0V100.0M232.5 83.0V100.0M239.5 83.0V100.0M246.5 83.0V100.0M254.5 83.0V100.0M261.5 83.0V100.0M268.5 83.0V100.0M276.5 83.0V100.0M283.5 83.0V100.0M290.5 83.0V100.0M298.5 83.0V100.0M305.5 83.0V100.0M312.5 83.0V100.0M320.5 83.0V100.0M327.5 83.0V100.0M335.5 83.0V100.0M342.5 83.0V100.0M349.5 83.0V100.0M357.5 83.0V100.0M364.5 83.0V100.0M371.5 83.0V100.0M379.5 83.0V100.0M386.5 83.0V100.0M393.5 83.0V100.0M401.5 83.0V100.0M408.5 83.0V100.0M415.5 83.0V100.0M423.5 83.0V100.0M430.5 83.0V100.0M437.5 83.0V100.0M445.5 83.0V100.0M452.5 83.0V100.0M459.5 83.0V100.0M467.5 83.0V100.0M474.5 83.0V100.0M482.5 83.0V100.0M489.5 83.0V100.0M496.5 83.0V100.0M504.5 83.0V100.0M511.5 83.0V100.0M518.5 83.0V100.0M526.5 83.0V100.0M533.5 83.0V100.0M540.5 83.0V100.0M548.5 83.0V100.0M555.5 83.0V100.0M562.5 83.0V100.0M570.5 83.0V100.0M577.5 83.0V100.0M584.5 83.0V100.0M592.5 83.0V100.0M599.5 83.0V100.0M606.5 83.0V100.0" stroke="#fff" stroke-width="1" fill="none" opacity="0.6"/>
<rect x="140.0" y="116.00" width="466.0" height="17.00" fill="#fff"/>
<path d="M94.15 116.5H606.0M94.15 118.5H606.0M94.15 120.5H606.0M94.15 122.5H606.0M94.15 124.5H606.0M94.15 126.5H606.0M94.15 128.5H606.0M94.15 130.5H606.0M94.15 132.5H606.0M96.47 117.5H606.0M96.47 119.5H606.0M96.47 121.5H606.0M96.47 123.5H606.0M96.47 125.5H606.0M96.47 127.5H606.0M96.47 129.5H606.0M96.47 131.5H606.0" stroke="#ff0000" stroke-width="1" stroke-dasharray="1.5 3.130" fill="none"/>
<path d="M136.5 116.0V133.0M143.5 116.0V133.0M151.5 116.0V133.0M158.5 116.0V133.0M165.5 116.0V133.0M173.5 116.0V133.0M180.5 116.0V133.0M188.5 116.0V133.0M195.5 116.0V133.0M202.5 116.0V133.0M210.5 116.0V133.0M217.5 116.0V133.0M224.5 116.0V133.0M232.5 116.0V133.0M239.5 116.0V133.0M246.5 116.0V133.0M254.5 116.0V133.0M261.5 116.0V133.0M268.5 116.0V133.0M276.5 116.0V133.0M283.5 116.0V133.0M290.5 116.0V133.0M298.5 116.0V133.0M305.5 116.0V133.0M312.5 116.0V133.0M320.5 116.0V133.0M327.5 116.0V133.0M335.5 116.0V133.0M342.5 116.0V133.0M349.5 116.0V133.0M357.5 116.0V133.0M364.5 116.0V133.0M371.5 116.0V133.0M379.5 116.0V133.0M386.5 116.0V133.0M393.5 116.0V133.0M401.5 116.0V133.0M408.5 116.0V133.0M415.5 116.0V133.0M423.5 116.0V133.0M430.5 116.0V133.0M437.5 116.0V133.0M445.5 116.0V133.0M452.5 116.0V133.0M459.5 116.0V133.0M467.5 116.0V133.0M474.5 116.0V133.0M482.5 116.0V133.0M489.5 116.0V133.0M496.5 116.0V133.0M504.5 116.0V133.0M511.5 116.0V133.0M518.5 116.0V133.0M526.5 116.0V133.0M533.5 116.0V133.0M540.5 116.0V133.0M548.5 116.0V133.0M555.5 116.0V133.0M562.5 116.0V133.0M570.5 116.0V133.0M577.5 116.0V133.0M584.5 116.0V133.0M592.5 116.0V133.0M599.5 116.0V133.0M606.5 116.0V133.0" stroke="#fff" stroke-width="1" fill="none" opacity="0.6"/>
<rect x="140.0" y="149.00" width="466.0" height="18.00" fill="#fff"/>
<path d="M94.15 149.5H606.0M94.15 151.5H606.0M94.15 153.5H606.0M94.15 155.5H606.0M94.15 157.5H606.0M94.15 159.5H606.0M94.15 161.5H606.0M94.15 163.5H606.0M94.15 165.5H606.0M96.47 150.5H606.0M96.47 152.5H606.0M96.47 154.5H606.0M96.47 156.5H606.0M96.47 158.5H606.0M96.47 160.5H606.0M96.47 162.5H606.0M96.47 164.5H606.0M96.47 166.5H606.0" stroke="#ff0000" stroke-width="1" stroke-dasharray="1.5 3.130" fill="none"/>
<path d="M136.5 149.0V167.0M143.5 149.0V167.0M151.5 149.0V167.0M158.5 149.0V167.0M165.5 149.0V167.0M173.5 149.0V167.0M180.5 149.0V167.0M188.5 149.0V167.0M195.5 149.0V167.0M202.5 149.0V167.0M210.5 149.0V167.0M217.5 149.0V167.0M224.5 149.0V167.0M232.5 149.0V167.0M239.5 149.0V167.0M246.5 149.0V167.0M254.5 149.0V167.0M261.5 149.0V167.0M268.5 149.0V167.0M276.5 149.0V167.0M283.5 149.0V167.0M290.5 149.0V167.0M298.5 149.0V167.0M305.5 149.0V167.0M312.5 149.0V167.0M320.5 149.0V167.0M327.5 149.0V167.0M335.5 149.0V167.0M342.5 149.0V167.0M349.5 149.0V167.0M357.5 149.0V167.0M364.5 149.0V167.0M371.5 149.0V167.0M379.5 149.0V167.0M386.5 149.0V167.0M393.5 149.0V167.0M401.5 149.0V167.0M408.5 149.0V167.0M415.5 149.0V167.0M423.5 149.0V167.0M430.5 149.0V167.0M437.5 149.0V167.0M445.5 149.0V167.0M452.5 149.0V167.0M459.5 149.0V167.0M467.5 149.0V167.0M474.5 149.0V167.0M482.5 149.0V167.0M489.5 149.0V167.0M496.5 149.0V167.0M504.5 149.0V167.0M511.5 149.0V167.0M518.5 149.0V167.0M526.5 149.0V167.0M533.5 149.0V167.0M540.5 149.0V167.0M548.5 149.0V167.0M555.5 149.0V167.0M562.5 149.0V167.0M570.5 149.0V167.0M577.5 149.0V167.0M584.5 149.0V167.0M592.5 149.0V167.0M599.5 149.0V167.0M606.5 149.0V167.0" stroke="#fff" stroke-width="1" fill="none" opacity="0.6"/>
<rect x="140.0" y="183.00" width="466.0" height="17.00" fill="#fff"/>
<path d="M94.15 183.5H606.0M94.15 185.5H606.0M94.15 187.5H606.0M94.15 189.5H606.0M94.15 191.5H606.0M94.15 193.5H606.0M94.15 195.5H606.0M94.15 197.5H606.0M94.15 199.5H606.0M96.47 184.5H606.0M96.47 186.5H606.0M96.47 188.5H606.0M96.47 190.5H606.0M96.47 192.5H606.0M96.47 194.5H606.0M96.47 196.5H606.0M96.47 198.5H606.0" stroke="#ff0000" stroke-width="1" stroke-dasharray="1.5 3.130" fill="none"/>
<path d="M136.5 183.0V200.0M143.5 183.0V200.0M151.5 183.0V200.0M158.5 183.0V200.0M165.5 183.0V200.0M173.5 183.0V200.0M180.5 183.0V200.0M188.5 183.0V200.0M195.5 183.0V200.0M202.5 183.0V200.0M210.5 183.0V200.0M217.5 183.0V200.0M224.5 183.0V200.0M232.5 183.0V200.0M239.5 183.0V200.0M246.5 183.0V200.0M254.5 183.0V200.0M261.5 183.0V200.0M268.5 183.0V200.0M276.5 183.0V200.0M283.5 183.0V200.0M290.5 183.0V200.0M298.5 183.0V200.0M305.5 183.0V200.0M312.5 183.0V200.0M320.5 183.0V200.0M327.5 183.0V200.0M335.5 183.0V200.0M342.5 183.0V200.0M349.5 183.0V200.0M357.5 183.0V200.0M364.5 183.0V200.0M371.5 183.0V200.0M379.5 183.0V200.0M386.5 183.0V200.0M393.5 183.0V200.0M401.5 183.0V200.0M408.5 183.0V200.0M415.5 183.0V200.0M423.5 183.0V200.0M430.5 183.0V200.0M437.5 183.0V200.0M445.5 183.0V200.0M452.5 183.0V200.0M459.5 183.0V200.0M467.5 183.0V200.0M474.5 183.0V200.0M482.5 183.0V200.0M489.5 183.0V200.0M496.5 183.0V200.0M504.5 183.0V200.0M511.5 183.0V200.0M518.5 183.0V200.0M526.5 183.0V200.0M533.5 183.0V200.0M540.5 183.0V200.0M548.5 183.0V200.0M555.5 183.0V200.0M562.5 183.0V200.0M570.5 183.0V200.0M577.5 183.0V200.0M584.5 183.0V200.0M592.5 183.0V200.0M599.5 183.0V200.0M606.5 183.0V200.0" stroke="#fff" stroke-width="1" fill="none" opacity="0.6"/>
<rect x="140.0" y="216.00" width="466.0" height="17.00" fill="#fff"/>
<path d="M94.15 216.5H606.0M94.15 218.5H606.0M94.15 220.5H606.0M94.15 222.5H606.0M94.15 224.5H606.0M94.15 226.5H606.0M94.15 228.5H606.0M94.15 230.5H606.0M94.15 232.5H606.0M96.47 217.5H606.0M96.47 219.5H606.0M96.47 221.5H606.0M96.47 223.5H606.0M96.47 225.5H606.0M96.47 227.5H606.0M96.47 229.5H606.0M96.47 231.5H606.0" stroke="#ff0000" stroke-width="1" stroke-dasharray="1.5 3.130" fill="none"/>
<path d="M136.5 216.0V233.0M143.5 216.0V233.0M151.5 216.0V233.0M158.5 216.0V233.0M165.5 216.0V233.0M173.5 216.0V233.0M180.5 216.0V233.0M188.5 216.0V233.0M195.5 216.0V233.0M202.5 216.0V233.0M210.5 216.0V233.0M217.5 216.0V233.0M224.5 216.0V233.0M232.5 216.0V233.0M239.5 216.0V233.0M246.5 216.0V233.0M254.5 216.0V233.0M261.5 216.0V233.0M268.5 216.0V233.0M276.5 216.0V233.0M283.5 216.0V233.0M290.5 216.0V233.0M298.5 216.0V233.0M305.5 216.0V233.0M312.5 216.0V233.0M320.5 216.0V233.0M327.5 216.0V233.0M335.5 216.0V233.0M342.5 216.0V233.0M349.5 216.0V233.0M357.5 216.0V233.0M364.5 216.0V233.0M371.5 216.0V233.0M379.5 216.0V233.0M386.5 216.0V233.0M393.5 216.0V233.0M401.5 216.0V233.0M408.5 216.0V233.0M415.5 216.0V233.0M423.5 216.0V233.0M430.5 216.0V233.0M437.5 216.0V233.0M445.5 216.0V233.0M452.5 216.0V233.0M459.5 216.0V233.0M467.5 216.0V233.0M474.5 216.0V233.0M482.5 216.0V233.0M489.5 216.0V233.0M496.5 216.0V233.0M504.5 216.0V233.0M511.5 216.0V233.0M518.5 216.0V233.0M526.5 216.0V233.0M533.5 216.0V233.0M540.5 216.0V233.0M548.5 216.0V233.0M555.5 216.0V233.0M562.5 216.0V233.0M570.5 216.0V233.0M577.5 216.0V233.0M584.5 216.0V233.0M592.5 216.0V233.0M599.5 216.0V233.0M606.5 216.0V233.0" stroke="#fff" stroke-width="1" fill="none" opacity="0.6"/>
<rect x="140.0" y="249.00" width="466.0" height="1.00" fill="#fff"/>
<path d="M94.15 249.5H606.0" stroke="#ff0000" stroke-width="1" stroke-dasharray="1.5 3.130" fill="none"/>
<path d="M136.5 249.0V250.0M143.5 249.0V250.0M151.5 249.0V250.0M158.5 249.0V250.0M165.5 249.0V250.0M173.5 249.0V250.0M180.5 249.0V250.0M188.5 249.0V250.0M195.5 249.0V250.0M202.5 249.0V250.0M210.5 249.0V250.0M217.5 249.0V250.0M224.5 249.0V250.0M232.5 249.0V250.0M239.5 249.0V250.0M246.5 249.0V250.0M254.5 249.0V250.0M261.5 249.0V250.0M268.5 249.0V250.0M276.5 249.0V250.0M283.5 249.0V250.0M290.5 249.0V250.0M298.5 249.0V250.0M305.5 249.0V250.0M312.5 249.0V250.0M320.5 249.0V250.0M327.5 249.0V250.0M335.5 249.0V250.0M342.5 249.0V250.0M349.5 249.0V250.0M357.5 249.0V250.0M364.5 249.0V250.0M371.5 249.0V250.0M379.5 249.0V250.0M386.5 249.0V250.0M393.5 249.0V250.0M401.5 249.0V250.0M408.5 249.0V250.0M415.5 249.0V250.0M423.5 249.0V250.0M430.5 249.0V250.0M437.5 249.0V250.0M445.5 249.0V250.0M452.5 249.0V250.0M459.5 249.0V250.0M467.5 249.0V250.0M474.5 249.0V250.0M482.5 249.0V250.0M489.5 249.0V250.0M496.5 249.0V250.0M504.5 249.0V250.0M511.5 249.0V250.0M518.5 249.0V250.0M526.5 249.0V250.0M533.5 249.0V250.0M540.5 249.0V250.0M548.5 249.0V250.0M555.5 249.0V250.0M562.5 249.0V250.0M570.5 249.0V250.0M577.5 249.0V250.0M584.5 249.0V250.0M592.5 249.0V250.0M599.5 249.0V250.0M606.5 249.0V250.0" stroke="#fff" stroke-width="1" fill="none" opacity="0.6"/>
</g>
<g clip-path="url(#cyn)">
<path d="M87.28 248.34H606.0M87.28 256.58H606.0M87.28 264.82H606.0M87.28 273.06H606.0M87.28 281.30H606.0M87.28 289.54H606.0M87.28 297.78H606.0M87.28 306.02H606.0M87.28 314.26H606.0M87.28 322.50H606.0M87.28 330.74H606.0M87.28 338.98H606.0M87.28 347.22H606.0M87.28 355.46H606.0M87.28 363.70H606.0M87.28 371.94H606.0M87.28 380.18H606.0M87.28 388.42H606.0M87.28 396.66H606.0M87.28 404.90H606.0M87.28 413.14H606.0M87.28 421.38H606.0M87.28 429.62H606.0M87.28 437.86H606.0M87.28 446.10H606.0M87.28 454.34H606.0M87.28 462.58H606.0M87.28 470.82H606.0M87.28 479.06H606.0M87.28 487.30H606.0M91.91 252.46H606.0M91.91 260.70H606.0M91.91 268.94H606.0M91.91 277.18H606.0M91.91 285.42H606.0M91.91 293.66H606.0M91.91 301.90H606.0M91.91 310.14H606.0M91.91 318.38H606.0M91.91 326.62H606.0M91.91 334.86H606.0M91.91 343.10H606.0M91.91 351.34H606.0M91.91 359.58H606.0M91.91 367.82H606.0M91.91 376.06H606.0M91.91 384.30H606.0M91.91 392.54H606.0M91.91 400.78H606.0M91.91 409.02H606.0M91.91 417.26H606.0M91.91 425.50H606.0M91.91 433.74H606.0M91.91 441.98H606.0M91.91 450.22H606.0M91.91 458.46H606.0M91.91 466.70H606.0M91.91 474.94H606.0M91.91 483.18H606.0" stroke="#fff000" stroke-width="1.1" stroke-dasharray="1.15 8.11" fill="none"/>
</g>
<polygon points="606.00,249.30 195.00,249.50 188.80,250.50 171.30,256.10 157.80,262.50 149.00,272.00 145.00,279.20 143.50,290.00 140.00,357.00 142.50,408.00 145.50,450.00 147.50,489.40 193.75,489.40 196.25,477.50 242.50,375.00 357.00,328.25 394.00,316.40 444.00,300.50 551.00,283.75 606.00,271.00" fill="#fff"/>
<g clip-path="url(#crn)">
<path d="M133.58 248.34H606.0M133.58 256.58H606.0M133.58 264.82H606.0M133.58 273.06H606.0M133.58 281.30H606.0M133.58 289.54H606.0M133.58 297.78H606.0M133.58 306.02H606.0M133.58 314.26H606.0M133.58 322.50H606.0M133.58 330.74H606.0M133.58 338.98H606.0M133.58 347.22H606.0M133.58 355.46H606.0M133.58 363.70H606.0M133.58 371.94H606.0M133.58 380.18H606.0M133.58 388.42H606.0M133.58 396.66H606.0M133.58 404.90H606.0M133.58 413.14H606.0M133.58 421.38H606.0M133.58 429.62H606.0M133.58 437.86H606.0M133.58 446.10H606.0M133.58 454.34H606.0M133.58 462.58H606.0M133.58 470.82H606.0M133.58 479.06H606.0M133.58 487.30H606.0M128.95 252.46H606.0M128.95 260.70H606.0M128.95 268.94H606.0M128.95 277.18H606.0M128.95 285.42H606.0M128.95 293.66H606.0M128.95 301.90H606.0M128.95 310.14H606.0M128.95 318.38H606.0M128.95 326.62H606.0M128.95 334.86H606.0M128.95 343.10H606.0M128.95 351.34H606.0M128.95 359.58H606.0M128.95 367.82H606.0M128.95 376.06H606.0M128.95 384.30H606.0M128.95 392.54H606.0M128.95 400.78H606.0M128.95 409.02H606.0M128.95 417.26H606.0M128.95 425.50H606.0M128.95 433.74H606.0M128.95 441.98H606.0M128.95 450.22H606.0M128.95 458.46H606.0M128.95 466.70H606.0M128.95 474.94H606.0M128.95 483.18H606.0" stroke="#ff0000" stroke-width="1.1" stroke-dasharray="1.15 8.11" fill="none"/>
</g>
<g clip-path="url(#cfr)">
<polygon points="117.00,8.70 109.50,136.00 105.30,210.00 103.70,230.70 107.70,240.20 126.00,246.90 158.60,248.50 606.00,248.70 606.00,238.40 551.00,235.80 489.00,231.50 454.00,228.50 426.50,223.50 414.00,223.50 394.00,220.00 377.00,216.50 360.75,214.00 342.00,207.00 319.50,199.75 294.50,186.50 273.90,172.00 242.90,152.00 237.40,137.40 233.50,129.00 219.40,104.70 204.70,69.20 200.80,60.20 196.30,52.50 189.30,41.00 182.20,29.40 180.90,24.30 178.30,8.70" fill="none" stroke="#000" stroke-width="1.05" stroke-linejoin="round"/>
<polygon points="606.00,249.70 157.00,249.80 126.80,251.70 104.50,257.20 102.00,272.00 101.40,290.00 100.75,302.00 121.25,374.50 119.25,417.50 124.50,489.40 168.00,489.40 168.75,485.00 181.00,453.90 199.70,419.90 206.60,402.00 213.20,384.30 217.50,367.00 220.00,350.00 237.00,339.00 309.50,296.50 394.00,283.10 494.00,268.75 551.00,264.50 606.00,258.50" fill="none" stroke="#000" stroke-width="1.05" stroke-linejoin="round"/>
<polygon points="144.50,8.70 148.00,136.00 150.00,173.50 155.00,203.50 157.00,210.00 162.60,224.30 167.30,232.30 177.70,239.40 190.40,243.40 197.50,244.75 220.00,246.90 260.00,247.90 400.00,248.00 520.00,247.60 606.00,247.50 606.00,226.00 551.00,216.00 494.00,206.00 445.00,197.25 354.50,168.50 252.60,73.00 225.50,8.70" fill="none" stroke="#ff0000" stroke-width="1.1" stroke-linejoin="round"/>
<polygon points="606.00,249.30 195.00,249.50 188.80,250.50 171.30,256.10 157.80,262.50 149.00,272.00 145.00,279.20 143.50,290.00 140.00,357.00 142.50,408.00 145.50,450.00 147.50,489.40 193.75,489.40 196.25,477.50 242.50,375.00 357.00,328.25 394.00,316.40 444.00,300.50 551.00,283.75 606.00,271.00" fill="none" stroke="#ff0000" stroke-width="1.1" stroke-linejoin="round"/>
<polygon points="133.75,8.70 132.50,48.75 139.00,136.00 142.50,161.00 146.00,183.50 151.00,198.50 154.60,210.00 158.60,218.00 165.00,225.90 174.50,232.30 184.00,236.20 195.00,239.40 215.00,243.00 237.00,245.00 274.50,246.70 330.00,247.20 480.00,247.80 560.00,248.80 606.00,249.20 606.00,232.50 551.00,230.30 494.00,226.50 444.00,223.50 419.00,218.50 394.00,211.50 377.00,207.00 357.00,203.50 337.00,197.00 312.00,188.50 294.00,176.60 284.50,171.50 264.70,154.80 248.60,141.00 236.00,129.00 219.40,104.70 210.40,89.30 200.80,70.00 190.90,42.00 179.60,8.70" fill="none" stroke="#00e600" stroke-width="1.2" stroke-linejoin="round"/>
<polygon points="606.00,249.40 480.00,249.70 394.00,250.60 337.00,251.50 299.50,252.10 262.00,253.50 237.00,256.00 220.00,258.50 202.50,262.00 195.00,264.00 184.00,269.60 174.50,276.00 169.00,283.10 165.70,290.00 160.00,302.00 151.00,327.00 146.00,354.50 142.50,384.50 141.00,408.00 139.50,437.50 138.00,462.50 138.50,489.40 182.50,489.40 185.90,472.20 195.60,439.20 197.50,430.90 203.80,414.40 205.20,406.10 207.90,395.10 216.20,381.30 234.10,359.30 235.20,353.50 236.50,351.60 252.00,334.50 260.75,324.50 285.75,307.00 307.00,297.00 327.00,289.50 394.00,276.00 422.75,269.50 494.00,267.50 551.00,264.50 606.00,264.75" fill="none" stroke="#00e600" stroke-width="1.2" stroke-linejoin="round"/>
<line x1="160" y1="249.3" x2="500" y2="249.4" stroke="#000" stroke-width="1.5"/>
<line x1="480" y1="249.4" x2="606.0" y2="249.3" stroke="#00a000" stroke-width="1.7"/>
<line x1="84.3" y1="71.59" x2="606.0" y2="71.59" stroke="#0000ff" stroke-width="2.5" stroke-dasharray="10.9 6.27" stroke-dashoffset="0.9"/>
<line x1="84.3" y1="105.04" x2="606.0" y2="105.04" stroke="#0000ff" stroke-width="2.4"/>
<line x1="84.3" y1="138.89" x2="606.0" y2="138.89" stroke="#0000ff" stroke-width="2.4"/>
<line x1="84.3" y1="172.54" x2="606.0" y2="172.54" stroke="#0000ff" stroke-width="2.4"/>
<line x1="84.3" y1="206.19" x2="606.0" y2="206.19" stroke="#0000ff" stroke-width="2.5" stroke-dasharray="10.9 6.27" stroke-dashoffset="0.9"/>
</g>
<path d="M84.30 489.40v-12.5M84.30 8.70v12.5M119.08 489.40v-6.2M119.08 8.70v6.2M153.86 489.40v-6.2M153.86 8.70v6.2M188.64 489.40v-6.2M188.64 8.70v6.2M223.42 489.40v-6.2M223.42 8.70v6.2M258.20 489.40v-12.5M258.20 8.70v12.5M292.98 489.40v-6.2M292.98 8.70v6.2M327.76 489.40v-6.2M327.76 8.70v6.2M362.54 489.40v-6.2M362.54 8.70v6.2M397.32 489.40v-6.2M397.32 8.70v6.2M432.10 489.40v-12.5M432.10 8.70v12.5M466.88 489.40v-6.2M466.88 8.70v6.2M501.66 489.40v-6.2M501.66 8.70v6.2M536.44 489.40v-6.2M536.44 8.70v6.2M571.22 489.40v-6.2M571.22 8.70v6.2M606.00 489.40v-12.5M606.00 8.70v12.5M84.30 489.40h14.1M606.00 489.40h-14.1M84.30 481.39h6.9M606.00 481.39h-6.9M84.30 473.38h6.9M606.00 473.38h-6.9M84.30 465.37h6.9M606.00 465.37h-6.9M84.30 457.35h6.9M606.00 457.35h-6.9M84.30 449.34h14.1M606.00 449.34h-14.1M84.30 441.33h6.9M606.00 441.33h-6.9M84.30 433.32h6.9M606.00 433.32h-6.9M84.30 425.31h6.9M606.00 425.31h-6.9M84.30 417.29h6.9M606.00 417.29h-6.9M84.30 409.28h14.1M606.00 409.28h-14.1M84.30 401.27h6.9M606.00 401.27h-6.9M84.30 393.26h6.9M606.00 393.26h-6.9M84.30 385.25h6.9M606.00 385.25h-6.9M84.30 377.24h6.9M606.00 377.24h-6.9M84.30 369.22h14.1M606.00 369.22h-14.1M84.30 361.21h6.9M606.00 361.21h-6.9M84.30 353.20h6.9M606.00 353.20h-6.9M84.30 345.19h6.9M606.00 345.19h-6.9M84.30 337.18h6.9M606.00 337.18h-6.9M84.30 329.17h14.1M606.00 329.17h-14.1M84.30 321.15h6.9M606.00 321.15h-6.9M84.30 313.14h6.9M606.00 313.14h-6.9M84.30 305.13h6.9M606.00 305.13h-6.9M84.30 297.12h6.9M606.00 297.12h-6.9M84.30 289.11h14.1M606.00 289.11h-14.1M84.30 281.10h6.9M606.00 281.10h-6.9M84.30 273.08h6.9M606.00 273.08h-6.9M84.30 265.07h6.9M606.00 265.07h-6.9M84.30 257.06h6.9M606.00 257.06h-6.9M84.30 249.05h14.1M606.00 249.05h-14.1M84.30 241.04h6.9M606.00 241.04h-6.9M84.30 233.03h6.9M606.00 233.03h-6.9M84.30 225.01h6.9M606.00 225.01h-6.9M84.30 217.00h6.9M606.00 217.00h-6.9M84.30 208.99h14.1M606.00 208.99h-14.1M84.30 200.98h6.9M606.00 200.98h-6.9M84.30 192.97h6.9M606.00 192.97h-6.9M84.30 184.96h6.9M606.00 184.96h-6.9M84.30 176.94h6.9M606.00 176.94h-6.9M84.30 168.93h14.1M606.00 168.93h-14.1M84.30 160.92h6.9M606.00 160.92h-6.9M84.30 152.91h6.9M606.00 152.91h-6.9M84.30 144.90h6.9M606.00 144.90h-6.9M84.30 136.89h6.9M606.00 136.89h-6.9M84.30 128.88h14.1M606.00 128.88h-14.1M84.30 120.86h6.9M606.00 120.86h-6.9M84.30 112.85h6.9M606.00 112.85h-6.9M84.30 104.84h6.9M606.00 104.84h-6.9M84.30 96.83h6.9M606.00 96.83h-6.9M84.30 88.82h14.1M606.00 88.82h-14.1M84.30 80.81h6.9M606.00 80.81h-6.9M84.30 72.79h6.9M606.00 72.79h-6.9M84.30 64.78h6.9M606.00 64.78h-6.9M84.30 56.77h6.9M606.00 56.77h-6.9M84.30 48.76h14.1M606.00 48.76h-14.1M84.30 40.75h6.9M606.00 40.75h-6.9M84.30 32.73h6.9M606.00 32.73h-6.9M84.30 24.72h6.9M606.00 24.72h-6.9M84.30 16.71h6.9M606.00 16.71h-6.9M84.30 8.70h14.1M606.00 8.70h-14.1" stroke="#000" stroke-width="1.2" fill="none"/>
<rect x="84.30" y="8.70" width="521.70" height="480.70" fill="none" stroke="#000" stroke-width="1.4"/>
<g opacity="0.999">
<text transform="translate(49.20,495.82) scale(0.1994,0.1676)" font-family="Liberation Sans, sans-serif" font-size="100" fill="#000">-60</text>
<text transform="translate(49.20,455.76) scale(0.1994,0.1676)" font-family="Liberation Sans, sans-serif" font-size="100" fill="#000">-50</text>
<text transform="translate(49.20,415.70) scale(0.1994,0.1676)" font-family="Liberation Sans, sans-serif" font-size="100" fill="#000">-40</text>
<text transform="translate(49.20,375.64) scale(0.1994,0.1676)" font-family="Liberation Sans, sans-serif" font-size="100" fill="#000">-30</text>
<text transform="translate(49.20,335.58) scale(0.1994,0.1676)" font-family="Liberation Sans, sans-serif" font-size="100" fill="#000">-20</text>
<text transform="translate(49.20,295.52) scale(0.1994,0.1676)" font-family="Liberation Sans, sans-serif" font-size="100" fill="#000">-10</text>
<text transform="translate(66.93,255.47) scale(0.1994,0.1676)" font-family="Liberation Sans, sans-serif" font-size="100" fill="#000">0</text>
<text transform="translate(55.84,215.41) scale(0.1994,0.1676)" font-family="Liberation Sans, sans-serif" font-size="100" fill="#000">10</text>
<text transform="translate(55.84,175.35) scale(0.1994,0.1676)" font-family="Liberation Sans, sans-serif" font-size="100" fill="#000">20</text>
<text transform="translate(55.84,135.29) scale(0.1994,0.1676)" font-family="Liberation Sans, sans-serif" font-size="100" fill="#000">30</text>
<text transform="translate(55.84,95.23) scale(0.1994,0.1676)" font-family="Liberation Sans, sans-serif" font-size="100" fill="#000">40</text>
<text transform="translate(55.84,55.17) scale(0.1994,0.1676)" font-family="Liberation Sans, sans-serif" font-size="100" fill="#000">50</text>
<text transform="translate(55.84,15.12) scale(0.1994,0.1676)" font-family="Liberation Sans, sans-serif" font-size="100" fill="#000">60</text>
<text transform="translate(78.69,508.72) scale(0.2039,0.1676)" font-family="Liberation Sans, sans-serif" font-size="100" fill="#000">0</text>
<text transform="translate(235.68,508.72) scale(0.2039,0.1676)" font-family="Liberation Sans, sans-serif" font-size="100" fill="#000">1000</text>
<text transform="translate(409.28,508.72) scale(0.2039,0.1676)" font-family="Liberation Sans, sans-serif" font-size="100" fill="#000">2000</text>
<text transform="translate(583.38,508.72) scale(0.2039,0.1676)" font-family="Liberation Sans, sans-serif" font-size="100" fill="#000">3000</text>
<text transform="translate(455.39,323.01) scale(0.2017,0.1903)" font-family="Liberation Sans, sans-serif" font-size="100" fill="#000">CMSSM</text>
<text transform="translate(455.19,348.31) scale(0.2019,0.1903)" font-family="Liberation Sans, sans-serif" font-size="100" fill="#008c00">mGMSB</text>
<text transform="translate(455.20,373.21) scale(0.2006,0.1875)" font-family="Liberation Sans, sans-serif" font-size="100" fill="#ff0000">mAMSB</text>
<text transform="translate(455.39,412.71) scale(0.2023,0.1889)" font-family="Liberation Sans, sans-serif" font-size="100" fill="#000">CMSSM</text>
<text transform="translate(455.19,438.61) scale(0.2019,0.1889)" font-family="Liberation Sans, sans-serif" font-size="100" fill="#008c00">mGMSB</text>
<text transform="translate(455.20,464.01) scale(0.2000,0.1861)" font-family="Liberation Sans, sans-serif" font-size="100" fill="#ff0000">mAMSB</text>
<text transform="translate(389.70,347.87) scale(0.2500,0.2015)" font-family="Liberation Serif, serif" font-size="100" fill="#000">μ</text>
<text transform="translate(408.26,350.17) scale(0.2100,0.1808)" font-family="Liberation Sans, sans-serif" font-size="100" fill="#000">&gt;</text>
<text transform="translate(425.49,349.01) scale(0.2020,0.1887)" font-family="Liberation Sans, sans-serif" font-size="100" fill="#000">0</text>
<text transform="translate(441.32,349.00) scale(0.3200,0.1830)" font-family="Liberation Sans, sans-serif" font-size="100" fill="#000">:</text>
<text transform="translate(389.70,437.77) scale(0.2500,0.2015)" font-family="Liberation Serif, serif" font-size="100" fill="#000">μ</text>
<text transform="translate(408.26,440.07) scale(0.2100,0.1808)" font-family="Liberation Sans, sans-serif" font-size="100" fill="#000">&lt;</text>
<text transform="translate(425.49,438.91) scale(0.2020,0.1887)" font-family="Liberation Sans, sans-serif" font-size="100" fill="#000">0</text>
<text transform="translate(441.32,438.90) scale(0.3200,0.1830)" font-family="Liberation Sans, sans-serif" font-size="100" fill="#000">:</text>
<text transform="translate(296.36,531.60) scale(0.2394,0.2259)" font-family="Liberation Sans, sans-serif" font-size="100" fill="#000">m</text>
<text transform="translate(332.49,531.28) scale(0.2439,0.2106)" font-family="Liberation Sans, sans-serif" font-size="100" fill="#000">[GeV]</text>
<text transform="translate(316.74,540.64) scale(0.1593,0.1621)" font-family="Liberation Sans, sans-serif" font-size="100" fill="#000">t</text>
<text transform="translate(314.87,535.23) scale(0.1320,0.2308)" font-family="Liberation Sans, sans-serif" font-size="100" fill="#000">~</text>
<text transform="translate(321.16,542.50) scale(0.0773,0.0899)" font-family="Liberation Sans, sans-serif" font-size="100" fill="#000">1</text>
<text transform="translate(29.30,318.06) rotate(-90) scale(0.2207,0.2364)" font-family="Liberation Serif, serif" font-size="100" fill="#000">Δ</text>
<text transform="translate(29.36,304.00) rotate(-90) scale(0.2250,0.2400)" font-family="Liberation Sans, sans-serif" font-size="100" fill="#000">a</text>
<text transform="translate(37.54,293.69) rotate(-90) scale(0.1857,0.1552)" font-family="Liberation Serif, serif" font-size="100" fill="#000">μ</text>
<text transform="translate(14.62,283.38) rotate(-90) scale(0.1459,0.1792)" font-family="Liberation Sans, sans-serif" font-size="100" fill="#000">SUSY</text>
<text transform="translate(28.95,237.16) rotate(-90) scale(0.2800,0.2404)" font-family="Liberation Sans, sans-serif" font-size="100" fill="#000">[</text>
<text transform="translate(29.05,229.83) rotate(-90) scale(0.2047,0.2479)" font-family="Liberation Sans, sans-serif" font-size="100" fill="#000">10</text>
<text transform="translate(14.82,206.70) rotate(-90) scale(0.1497,0.1824)" font-family="Liberation Sans, sans-serif" font-size="100" fill="#000">-10</text>
<text transform="translate(28.87,185.20) rotate(-90) scale(0.2524,0.2394)" font-family="Liberation Sans, sans-serif" font-size="100" fill="#000">]</text>
</g>
<clipPath id="lb310"><rect x="534.60" y="310.30" width="56.50" height="12.60"/></clipPath><g clip-path="url(#lb310)"><rect x="534.6" y="310.3" width="56.5" height="12.6" fill="#ffffa0"/><path d="M536.5 310.3V322.9M542.5 310.3V322.9M551.5 310.3V322.9M557.5 310.3V322.9M566.5 310.3V322.9M573.5 310.3V322.9M580.5 310.3V322.9M588.5 310.3V322.9" stroke="#fff06a" stroke-width="1" fill="none"/><path d="M535.5 310.3V322.9M537.5 310.3V322.9M541.5 310.3V322.9M543.5 310.3V322.9M550.5 310.3V322.9M552.5 310.3V322.9M556.5 310.3V322.9M558.5 310.3V322.9M565.5 310.3V322.9M567.5 310.3V322.9M572.5 310.3V322.9M574.5 310.3V322.9M579.5 310.3V322.9M581.5 310.3V322.9M587.5 310.3V322.9M589.5 310.3V322.9" stroke="#fff" stroke-width="1" fill="none" opacity="0.9"/><rect x="534.6" y="313.00" width="56.5" height="10.00" fill="#fff"/><path d="M533.90 313.5H591.1M533.90 315.5H591.1M533.90 317.5H591.1M533.90 319.5H591.1M533.90 321.5H591.1" stroke="#ffe000" stroke-width="1" stroke-dasharray="1.3 1.015" fill="none"/><path d="M535.5 313.0V323.0M541.5 313.0V323.0M550.5 313.0V323.0M556.5 313.0V323.0M565.5 313.0V323.0M572.5 313.0V323.0M579.5 313.0V323.0M587.5 313.0V323.0" stroke="#fff" stroke-width="1" fill="none" opacity="0.6"/></g><rect x="534.60" y="310.30" width="56.50" height="12.60" fill="none" stroke="#222" stroke-width="1.3"/>
<clipPath id="lb335"><rect x="534.60" y="335.90" width="56.50" height="12.20"/></clipPath><g clip-path="url(#lb335)"><rect x="534.6" y="335.9" width="56.5" height="12.2" fill="#c0ffc0"/><path d="M536.5 335.9V348.1M542.5 335.9V348.1M551.5 335.9V348.1M557.5 335.9V348.1M566.5 335.9V348.1M573.5 335.9V348.1M580.5 335.9V348.1M588.5 335.9V348.1" stroke="#7dff7d" stroke-width="1" fill="none"/><path d="M535.5 335.9V348.1M537.5 335.9V348.1M541.5 335.9V348.1M543.5 335.9V348.1M550.5 335.9V348.1M552.5 335.9V348.1M556.5 335.9V348.1M558.5 335.9V348.1M565.5 335.9V348.1M567.5 335.9V348.1M572.5 335.9V348.1M574.5 335.9V348.1M579.5 335.9V348.1M581.5 335.9V348.1M587.5 335.9V348.1M589.5 335.9V348.1" stroke="#fff" stroke-width="1" fill="none" opacity="0.9"/><rect x="534.6" y="346.00" width="56.5" height="3.00" fill="#fff"/><path d="M533.60 346.5H591.1M533.60 348.5H591.1M535.92 347.5H591.1" stroke="#00e800" stroke-width="1" stroke-dasharray="1.5 3.130" fill="none"/><path d="M535.5 346.0V349.0M541.5 346.0V349.0M550.5 346.0V349.0M556.5 346.0V349.0M565.5 346.0V349.0M572.5 346.0V349.0M579.5 346.0V349.0M587.5 346.0V349.0" stroke="#fff" stroke-width="1" fill="none" opacity="0.6"/></g><rect x="534.60" y="335.90" width="56.50" height="12.20" fill="none" stroke="#00e600" stroke-width="1.3"/>
<clipPath id="lb361"><rect x="534.60" y="361.70" width="56.50" height="12.40"/></clipPath><g clip-path="url(#lb361)"><rect x="534.6" y="361.7" width="56.5" height="12.4" fill="#ffb8b8"/><path d="M536.5 361.7V374.1M542.5 361.7V374.1M551.5 361.7V374.1M557.5 361.7V374.1M566.5 361.7V374.1M573.5 361.7V374.1M580.5 361.7V374.1M588.5 361.7V374.1" stroke="#ff8f8f" stroke-width="1" fill="none"/><path d="M535.5 361.7V374.1M537.5 361.7V374.1M541.5 361.7V374.1M543.5 361.7V374.1M550.5 361.7V374.1M552.5 361.7V374.1M556.5 361.7V374.1M558.5 361.7V374.1M565.5 361.7V374.1M567.5 361.7V374.1M572.5 361.7V374.1M574.5 361.7V374.1M579.5 361.7V374.1M581.5 361.7V374.1M587.5 361.7V374.1M589.5 361.7V374.1" stroke="#fff" stroke-width="1" fill="none" opacity="0.9"/><rect x="534.6" y="361.00" width="56.5" height="3.00" fill="#fff"/><path d="M533.60 361.5H591.1M533.60 363.5H591.1M535.92 362.5H591.1" stroke="#ff0000" stroke-width="1" stroke-dasharray="1.5 3.130" fill="none"/><path d="M535.5 361.0V364.0M541.5 361.0V364.0M550.5 361.0V364.0M556.5 361.0V364.0M565.5 361.0V364.0M572.5 361.0V364.0M579.5 361.0V364.0M587.5 361.0V364.0" stroke="#fff" stroke-width="1" fill="none" opacity="0.6"/></g><rect x="534.60" y="361.70" width="56.50" height="12.40" fill="none" stroke="#ff0000" stroke-width="1.3"/>
<clipPath id="lb400"><rect x="534.60" y="400.20" width="56.50" height="11.80"/></clipPath><g clip-path="url(#lb400)">
<path d="M531.76 396.66H591.1M531.76 404.90H591.1M527.13 400.78H591.1M527.13 409.02H591.1" stroke="#fff000" stroke-width="1.1" stroke-dasharray="1.15 8.11" fill="none"/>
</g><rect x="534.60" y="400.20" width="56.50" height="11.80" fill="none" stroke="#000" stroke-width="1.3"/>
<clipPath id="lb426"><rect x="534.60" y="426.00" width="56.50" height="12.00"/></clipPath><g clip-path="url(#lb426)">
<path d="M531.76 429.62H591.1M531.76 437.86H591.1M527.13 425.50H591.1M527.13 433.74H591.1" stroke="#00e000" stroke-width="1.1" stroke-dasharray="1.15 8.11" fill="none"/>
</g><rect x="534.60" y="426.00" width="56.50" height="12.00" fill="none" stroke="#00e600" stroke-width="1.3"/>
<clipPath id="lb451"><rect x="534.60" y="451.60" width="56.50" height="12.20"/></clipPath><g clip-path="url(#lb451)">
<path d="M531.76 454.34H591.1M531.76 462.58H591.1M527.13 450.22H591.1M527.13 458.46H591.1" stroke="#ff0000" stroke-width="1.1" stroke-dasharray="1.15 8.11" fill="none"/>
</g><rect x="534.60" y="451.60" width="56.50" height="12.20" fill="none" stroke="#ff0000" stroke-width="1.3"/>
</svg>
</body></html>
